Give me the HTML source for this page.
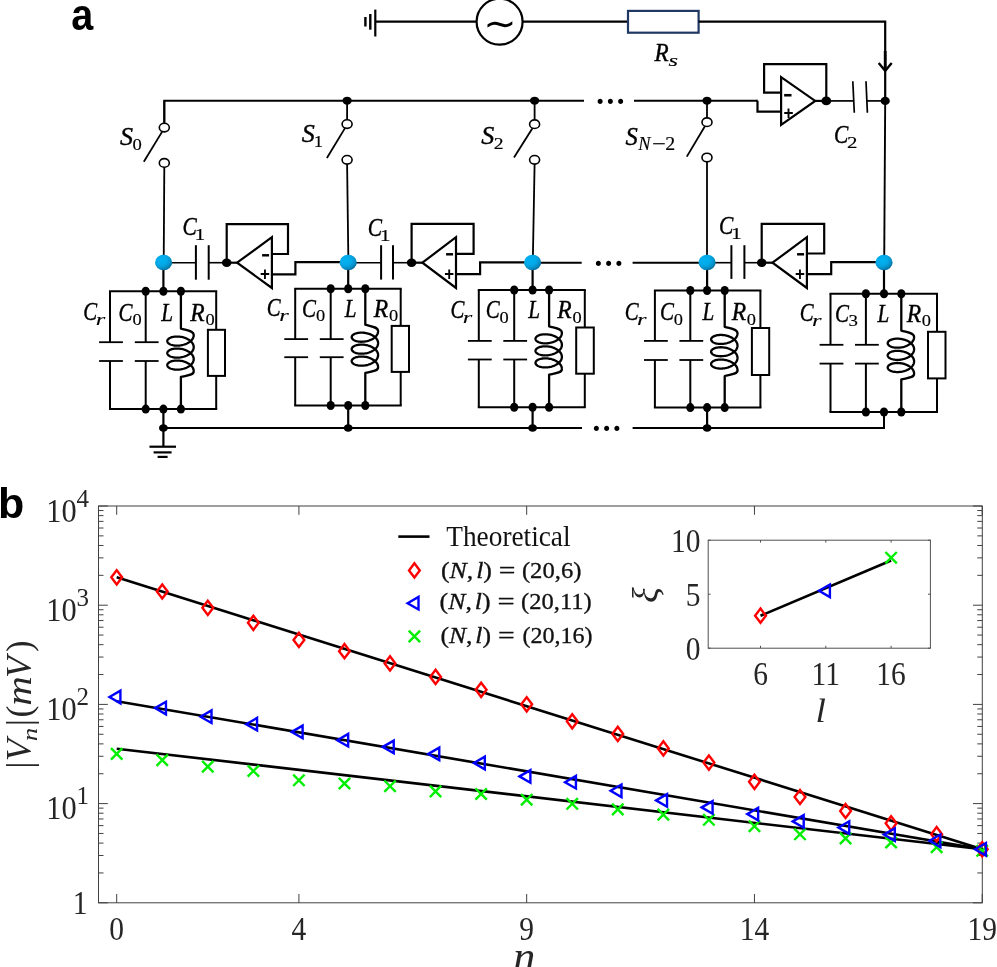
<!DOCTYPE html>
<html lang="en"><head><meta charset="utf-8"><title>Figure</title>
<style>html,body{margin:0;padding:0;background:#fff}svg{display:block}</style></head>
<body>
<svg width="997" height="967" viewBox="0 0 997 967">
<defs><radialGradient id="bg" cx="0.36" cy="0.32" r="0.80"><stop offset="0" stop-color="#02b1f1"/><stop offset="0.42" stop-color="#03aae9"/><stop offset="0.68" stop-color="#0591ca"/><stop offset="0.9" stop-color="#066c9a"/></radialGradient></defs>
<rect width="997" height="967" fill="#fff"/>
<text transform="translate(71.2,29.6) scale(0.92,1.02)" font-family='"Liberation Sans", "DejaVu Sans", sans-serif' font-weight="bold" font-size="43">a</text>
<text x="-1.9" y="518" font-family='"Liberation Sans", "DejaVu Sans", sans-serif' font-weight="bold" font-size="43">b</text>
<line x1="375.30" y1="9.60" x2="375.30" y2="36.50" stroke="#000" stroke-width="2.2" stroke-linecap="butt"/>
<line x1="370.30" y1="14.00" x2="370.30" y2="29.70" stroke="#000" stroke-width="2.4" stroke-linecap="butt"/>
<line x1="365.40" y1="17.00" x2="365.40" y2="26.50" stroke="#000" stroke-width="2.4" stroke-linecap="butt"/>
<line x1="375.30" y1="21.70" x2="476.60" y2="21.70" stroke="#000" stroke-width="2.2" stroke-linecap="butt"/>
<circle cx="499.6" cy="21.7" r="23.0" fill="#fff" stroke="#000" stroke-width="2.2"/>
<text transform="translate(499.9,35.8) scale(1.42,1.3)" font-family='"DejaVu Sans", "Liberation Sans", "DejaVu Sans", sans-serif' font-size="28" text-anchor="middle">∼</text>
<line x1="522.60" y1="21.70" x2="628.00" y2="21.70" stroke="#000" stroke-width="2.2" stroke-linecap="butt"/>
<rect x="628" y="10.9" width="70.6" height="21.8" fill="#fff" stroke="#1f3864" stroke-width="2.2"/>
<path d="M698.60,21.70 L885.20,21.70 L885.20,100.70" fill="none" stroke="#000" stroke-width="2.2" stroke-linejoin="miter"/>
<line x1="885.20" y1="51.00" x2="885.20" y2="70.00" stroke="#000" stroke-width="2.8" stroke-linecap="butt"/>
<path d="M878.70,63.00 L885.20,70.80 L891.70,63.00" fill="none" stroke="#000" stroke-width="2.4" stroke-linejoin="miter"/>
<text transform="translate(654.52,60.50) scale(0.927,1)" font-family='"Liberation Serif", "DejaVu Serif", serif' font-size="25.0" font-style="italic" fill="#000" stroke="#000" stroke-width="0.4">R</text>
<text transform="translate(668.50,66.00) scale(1.393,1)" font-family='"Liberation Serif", "DejaVu Serif", serif' font-size="17.6" font-style="italic" fill="#000" stroke="#000" stroke-width="0.15">s</text>
<path d="M164.30,122.50 L164.30,100.70 L584.00,100.70" fill="none" stroke="#000" stroke-width="2.1" stroke-linejoin="miter"/>
<line x1="634.00" y1="100.70" x2="757.50" y2="100.70" stroke="#000" stroke-width="2.1" stroke-linecap="butt"/>
<text x="596.23" y="104.08" font-family='"Liberation Serif", "DejaVu Serif", serif' font-weight="bold" font-size="31" letter-spacing="2.55">...</text>
<ellipse cx="347.10" cy="100.70" rx="4.6" ry="4.05" fill="#000"/>
<ellipse cx="534.60" cy="100.70" rx="4.6" ry="4.05" fill="#000"/>
<ellipse cx="707.00" cy="100.70" rx="4.6" ry="4.05" fill="#000"/>
<line x1="164.30" y1="100.70" x2="164.30" y2="123.60" stroke="#000" stroke-width="1.8" stroke-linecap="butt"/>
<line x1="163.10" y1="130.10" x2="143.80" y2="161.80" stroke="#000" stroke-width="1.8" stroke-linecap="butt"/>
<line x1="164.30" y1="166.90" x2="163.70" y2="262.70" stroke="#000" stroke-width="1.8" stroke-linecap="butt"/>
<ellipse cx="164.30" cy="127.60" rx="5.0" ry="4.3" fill="#fff" stroke="#000" stroke-width="1.6"/>
<ellipse cx="164.30" cy="162.90" rx="5.0" ry="4.3" fill="#fff" stroke="#000" stroke-width="1.6"/>
<line x1="347.10" y1="100.70" x2="347.10" y2="120.10" stroke="#000" stroke-width="1.8" stroke-linecap="butt"/>
<line x1="345.90" y1="126.60" x2="326.90" y2="158.00" stroke="#000" stroke-width="1.8" stroke-linecap="butt"/>
<line x1="347.10" y1="163.80" x2="348.40" y2="262.70" stroke="#000" stroke-width="1.8" stroke-linecap="butt"/>
<ellipse cx="347.10" cy="124.10" rx="5.0" ry="4.3" fill="#fff" stroke="#000" stroke-width="1.6"/>
<ellipse cx="347.10" cy="159.80" rx="5.0" ry="4.3" fill="#fff" stroke="#000" stroke-width="1.6"/>
<line x1="534.60" y1="100.70" x2="534.60" y2="120.20" stroke="#000" stroke-width="1.8" stroke-linecap="butt"/>
<line x1="533.40" y1="126.70" x2="514.00" y2="157.60" stroke="#000" stroke-width="1.8" stroke-linecap="butt"/>
<line x1="534.60" y1="163.80" x2="532.80" y2="262.70" stroke="#000" stroke-width="1.8" stroke-linecap="butt"/>
<ellipse cx="534.60" cy="124.20" rx="5.0" ry="4.3" fill="#fff" stroke="#000" stroke-width="1.6"/>
<ellipse cx="534.60" cy="159.80" rx="5.0" ry="4.3" fill="#fff" stroke="#000" stroke-width="1.6"/>
<line x1="707.00" y1="100.70" x2="707.00" y2="118.20" stroke="#000" stroke-width="1.8" stroke-linecap="butt"/>
<line x1="705.80" y1="124.70" x2="686.80" y2="156.60" stroke="#000" stroke-width="1.8" stroke-linecap="butt"/>
<line x1="707.00" y1="161.50" x2="707.00" y2="262.70" stroke="#000" stroke-width="1.8" stroke-linecap="butt"/>
<ellipse cx="707.00" cy="122.20" rx="5.0" ry="4.3" fill="#fff" stroke="#000" stroke-width="1.6"/>
<ellipse cx="707.00" cy="157.50" rx="5.0" ry="4.3" fill="#fff" stroke="#000" stroke-width="1.6"/>
<text transform="translate(119.99,144.70) scale(1.042,1)" font-family='"Liberation Serif", "DejaVu Serif", serif' font-size="25.0" font-style="italic" fill="#000" stroke="#000" stroke-width="0.4">S</text>
<text transform="translate(132.49,149.80) scale(1.059,1)" font-family='"Liberation Serif", "DejaVu Serif", serif' font-size="17.6" font-style="normal" fill="#000" stroke="#000" stroke-width="0.15">0</text>
<text transform="translate(301.69,141.60) scale(1.042,1)" font-family='"Liberation Serif", "DejaVu Serif", serif' font-size="25.0" font-style="italic" fill="#000" stroke="#000" stroke-width="0.4">S</text>
<text transform="translate(313.75,146.70) scale(1.065,1)" font-family='"Liberation Serif", "DejaVu Serif", serif' font-size="17.6" font-style="normal" fill="#000" stroke="#000" stroke-width="0.15">1</text>
<text transform="translate(481.29,143.80) scale(1.042,1)" font-family='"Liberation Serif", "DejaVu Serif", serif' font-size="25.0" font-style="italic" fill="#000" stroke="#000" stroke-width="0.4">S</text>
<text transform="translate(493.63,148.90) scale(1.120,1)" font-family='"Liberation Serif", "DejaVu Serif", serif' font-size="17.6" font-style="normal" fill="#000" stroke="#000" stroke-width="0.15">2</text>
<text transform="translate(625.51,144.50) scale(0.983,1)" font-family='"Liberation Serif", "DejaVu Serif", serif' font-size="25.0" font-style="italic" fill="#000" stroke="#000" stroke-width="0.4">S</text>
<text transform="translate(638.23,149.60) scale(0.990,1)" font-family='"Liberation Serif", "DejaVu Serif", serif' font-size="18.5" font-style="italic" fill="#000" stroke="#000" stroke-width="0.15">N</text>
<text transform="translate(652.08,149.60) scale(1.324,1)" font-family='"Liberation Serif", "DejaVu Serif", serif' font-size="18.5" font-style="normal" fill="#000" stroke="#000" stroke-width="0.15">−</text>
<text transform="translate(665.22,149.60) scale(1.079,1)" font-family='"Liberation Serif", "DejaVu Serif", serif' font-size="18.5" font-style="normal" fill="#000" stroke="#000" stroke-width="0.15">2</text>
<path d="M757.50,100.70 L757.50,100.70 L757.50,111.70 L781.10,111.70" fill="none" stroke="#000" stroke-width="2.2" stroke-linejoin="miter"/>
<line x1="756.50" y1="100.70" x2="757.50" y2="100.70" stroke="#000" stroke-width="2" stroke-linecap="butt"/>
<path d="M781.10,77.20 L815.20,100.90 L781.10,124.80 Z" fill="none" stroke="#000" stroke-width="2.2" stroke-linejoin="miter"/>
<path d="M826.30,100.90 L826.30,64.20 L764.10,64.20 L764.10,92.70 L781.10,92.70" fill="none" stroke="#000" stroke-width="2.2" stroke-linejoin="miter"/>
<line x1="815.20" y1="100.90" x2="826.30" y2="100.90" stroke="#000" stroke-width="2.2" stroke-linecap="butt"/>
<ellipse cx="826.30" cy="100.90" rx="4.9" ry="4.31" fill="#000"/>
<text transform="translate(783.58,103.27) scale(0.821,1.315)" font-family='"Liberation Sans", "DejaVu Sans", sans-serif' font-weight="bold" font-size="18.0">−</text>
<text transform="translate(783.38,119.16) scale(0.954,1.063)" font-family='"Liberation Sans", "DejaVu Sans", sans-serif' font-weight="bold" font-size="18.0">+</text>
<line x1="826.30" y1="100.90" x2="853.50" y2="100.90" stroke="#000" stroke-width="1.7" stroke-linecap="butt"/>
<line x1="867.00" y1="100.90" x2="885.20" y2="100.90" stroke="#000" stroke-width="1.7" stroke-linecap="butt"/>
<line x1="852.80" y1="81.20" x2="854.30" y2="112.70" stroke="#000" stroke-width="1.7" stroke-linecap="butt"/>
<line x1="866.00" y1="81.20" x2="867.40" y2="112.70" stroke="#000" stroke-width="1.7" stroke-linecap="butt"/>
<ellipse cx="885.20" cy="100.90" rx="4.6" ry="4.05" fill="#000"/>
<text transform="translate(834.01,143.30) scale(0.857,1)" font-family='"Liberation Serif", "DejaVu Serif", serif' font-size="25.0" font-style="italic" fill="#000" stroke="#000" stroke-width="0.4">C</text>
<text transform="translate(846.98,148.00) scale(1.191,1)" font-family='"Liberation Serif", "DejaVu Serif", serif' font-size="17.6" font-style="normal" fill="#000" stroke="#000" stroke-width="0.15">2</text>
<line x1="885.20" y1="100.90" x2="884.20" y2="262.70" stroke="#000" stroke-width="1.9" stroke-linecap="butt"/>
<line x1="109.00" y1="291.30" x2="217.20" y2="291.30" stroke="#000" stroke-width="2" stroke-linecap="butt"/>
<line x1="109.00" y1="409.10" x2="217.20" y2="409.10" stroke="#000" stroke-width="2" stroke-linecap="butt"/>
<line x1="110.00" y1="291.30" x2="110.00" y2="342.20" stroke="#000" stroke-width="2" stroke-linecap="butt"/>
<line x1="110.00" y1="361.00" x2="110.00" y2="409.10" stroke="#000" stroke-width="2" stroke-linecap="butt"/>
<line x1="99.10" y1="342.20" x2="122.90" y2="342.20" stroke="#000" stroke-width="1.8" stroke-linecap="butt"/>
<line x1="99.10" y1="361.00" x2="122.90" y2="361.00" stroke="#000" stroke-width="1.8" stroke-linecap="butt"/>
<line x1="145.70" y1="291.30" x2="145.70" y2="342.20" stroke="#000" stroke-width="2" stroke-linecap="butt"/>
<line x1="145.70" y1="361.00" x2="145.70" y2="409.10" stroke="#000" stroke-width="2" stroke-linecap="butt"/>
<line x1="134.80" y1="342.20" x2="158.60" y2="342.20" stroke="#000" stroke-width="1.8" stroke-linecap="butt"/>
<line x1="134.80" y1="361.00" x2="158.60" y2="361.00" stroke="#000" stroke-width="1.8" stroke-linecap="butt"/>
<line x1="216.20" y1="291.30" x2="216.20" y2="329.80" stroke="#000" stroke-width="2" stroke-linecap="butt"/>
<line x1="216.20" y1="375.90" x2="216.20" y2="409.10" stroke="#000" stroke-width="2" stroke-linecap="butt"/>
<rect x="207.90" y="329.80" width="17.10" height="46.10" fill="#fff" stroke="#000" stroke-width="2"/>
<path d="M180.90,291.30 L180.90,328.60 C186.90,330.40 193.70,330.60 193.70,335.10 L193.66,335.82 193.54,336.54 193.34,337.25 193.05,337.96 192.70,338.64 192.26,339.31 191.75,339.96 191.18,340.59 190.54,341.19 189.83,341.76 189.07,342.30 188.26,342.81 187.40,343.27 186.49,343.70 185.55,344.09 184.58,344.44 183.58,344.75 182.56,345.01 181.54,345.23 180.50,345.40 179.46,345.53 178.44,345.61 177.42,345.65 176.42,345.64 175.45,345.59 174.51,345.50 173.60,345.37 172.74,345.21 171.93,345.00 171.17,344.76 170.46,344.49 169.82,344.19 169.25,343.86 168.74,343.51 168.30,343.14 167.95,342.76 167.66,342.35 167.46,341.94 167.34,341.52 167.30,341.10 167.34,340.68 167.46,340.26 167.66,339.85 167.95,339.44 168.30,339.06 168.74,338.69 169.25,338.34 169.82,338.01 170.46,337.71 171.17,337.44 171.93,337.20 172.74,336.99 173.60,336.83 174.51,336.70 175.45,336.61 176.42,336.56 177.42,336.55 178.44,336.59 179.46,336.67 180.50,336.80 181.54,336.97 182.56,337.19 183.58,337.45 184.58,337.76 185.55,338.11 186.49,338.50 187.40,338.93 188.26,339.39 189.07,339.90 189.83,340.44 190.54,341.01 191.18,341.61 191.75,342.24 192.26,342.89 192.70,343.56 193.05,344.24 193.34,344.95 193.54,345.66 193.66,346.38 193.70,347.10 193.66,347.82 193.54,348.54 193.34,349.25 193.05,349.96 192.70,350.64 192.26,351.31 191.75,351.96 191.18,352.59 190.54,353.19 189.83,353.76 189.07,354.30 188.26,354.81 187.40,355.27 186.49,355.70 185.55,356.09 184.58,356.44 183.58,356.75 182.56,357.01 181.54,357.23 180.50,357.40 179.46,357.53 178.44,357.61 177.42,357.65 176.42,357.64 175.45,357.59 174.51,357.50 173.60,357.37 172.74,357.21 171.93,357.00 171.17,356.76 170.46,356.49 169.82,356.19 169.25,355.86 168.74,355.51 168.30,355.14 167.95,354.76 167.66,354.35 167.46,353.94 167.34,353.52 167.30,353.10 167.34,352.68 167.46,352.26 167.66,351.85 167.95,351.44 168.30,351.06 168.74,350.69 169.25,350.34 169.82,350.01 170.46,349.71 171.17,349.44 171.93,349.20 172.74,348.99 173.60,348.83 174.51,348.70 175.45,348.61 176.42,348.56 177.42,348.55 178.44,348.59 179.46,348.67 180.50,348.80 181.54,348.97 182.56,349.19 183.58,349.45 184.58,349.76 185.55,350.11 186.49,350.50 187.40,350.93 188.26,351.39 189.07,351.90 189.83,352.44 190.54,353.01 191.18,353.61 191.75,354.24 192.26,354.89 192.70,355.56 193.05,356.24 193.34,356.95 193.54,357.66 193.66,358.38 193.70,359.10 193.66,359.82 193.54,360.54 193.34,361.25 193.05,361.96 192.70,362.64 192.26,363.31 191.75,363.96 191.18,364.59 190.54,365.19 189.83,365.76 189.07,366.30 188.26,366.81 187.40,367.27 186.49,367.70 185.55,368.09 184.58,368.44 183.58,368.75 182.56,369.01 181.54,369.23 180.50,369.40 179.46,369.53 178.44,369.61 177.42,369.65 176.42,369.64 175.45,369.59 174.51,369.50 173.60,369.37 172.74,369.21 171.93,369.00 171.17,368.76 170.46,368.49 169.82,368.19 169.25,367.86 168.74,367.51 168.30,367.14 167.95,366.76 167.66,366.35 167.46,365.94 167.34,365.52 167.30,365.10 167.34,364.68 167.46,364.26 167.66,363.85 167.95,363.44 168.30,363.06 168.74,362.69 169.25,362.34 169.82,362.01 170.46,361.71 171.17,361.44 171.93,361.20 172.74,360.99 173.60,360.83 174.51,360.70 175.45,360.61 176.42,360.56 177.42,360.55 178.44,360.59 179.46,360.67 180.50,360.80 181.54,360.97 182.56,361.19 183.58,361.45 184.58,361.76 185.55,362.11 186.49,362.50 187.40,362.93 188.26,363.39 189.07,363.90 189.83,364.44 190.54,365.01 191.18,365.61 191.75,366.24 192.26,366.89 192.70,367.56 193.05,368.24 193.34,368.95 193.54,369.66 193.66,370.38 193.70,371.10 C194.20,375.10 186.90,375.40 180.90,376.90 L180.90,409.10" fill="none" stroke="#000" stroke-width="2.3" stroke-linejoin="round"/>
<ellipse cx="145.70" cy="291.30" rx="4.1" ry="4.50" fill="#000"/>
<ellipse cx="145.70" cy="409.10" rx="4.1" ry="4.50" fill="#000"/>
<ellipse cx="163.40" cy="291.30" rx="4.1" ry="4.50" fill="#000"/>
<ellipse cx="163.40" cy="409.10" rx="4.1" ry="4.50" fill="#000"/>
<ellipse cx="180.90" cy="291.30" rx="4.1" ry="4.50" fill="#000"/>
<ellipse cx="180.90" cy="409.10" rx="4.1" ry="4.50" fill="#000"/>
<text transform="translate(83.34,320.30) scale(0.831,1)" font-family='"Liberation Serif", "DejaVu Serif", serif' font-size="25.0" font-style="italic" fill="#000" stroke="#000" stroke-width="0.4">C</text>
<text transform="translate(95.71,324.80) scale(1.390,1)" font-family='"Liberation Serif", "DejaVu Serif", serif' font-size="17.6" font-style="italic" fill="#000" stroke="#000" stroke-width="0.1">r</text>
<text transform="translate(118.53,320.70) scale(0.838,1)" font-family='"Liberation Serif", "DejaVu Serif", serif' font-size="25.0" font-style="italic" fill="#000" stroke="#000" stroke-width="0.4">C</text>
<text transform="translate(132.40,324.80) scale(1.046,1)" font-family='"Liberation Serif", "DejaVu Serif", serif' font-size="17.6" font-style="normal" fill="#000" stroke="#000" stroke-width="0.15">0</text>
<text transform="translate(161.15,320.70) scale(0.845,1)" font-family='"Liberation Serif", "DejaVu Serif", serif' font-size="25.0" font-style="italic" fill="#000" stroke="#000" stroke-width="0.4">L</text>
<text transform="translate(190.23,320.70) scale(0.941,1)" font-family='"Liberation Serif", "DejaVu Serif", serif' font-size="25.0" font-style="italic" fill="#000" stroke="#000" stroke-width="0.4">R</text>
<text transform="translate(205.40,324.80) scale(1.046,1)" font-family='"Liberation Serif", "DejaVu Serif", serif' font-size="17.6" font-style="normal" fill="#000" stroke="#000" stroke-width="0.15">0</text>
<line x1="294.20" y1="288.70" x2="401.70" y2="288.70" stroke="#000" stroke-width="2" stroke-linecap="butt"/>
<line x1="294.20" y1="405.50" x2="401.70" y2="405.50" stroke="#000" stroke-width="2" stroke-linecap="butt"/>
<line x1="295.20" y1="288.70" x2="295.20" y2="339.10" stroke="#000" stroke-width="2" stroke-linecap="butt"/>
<line x1="295.20" y1="357.20" x2="295.20" y2="405.50" stroke="#000" stroke-width="2" stroke-linecap="butt"/>
<line x1="284.30" y1="339.10" x2="308.10" y2="339.10" stroke="#000" stroke-width="1.8" stroke-linecap="butt"/>
<line x1="284.30" y1="357.20" x2="308.10" y2="357.20" stroke="#000" stroke-width="1.8" stroke-linecap="butt"/>
<line x1="330.70" y1="288.70" x2="330.70" y2="339.10" stroke="#000" stroke-width="2" stroke-linecap="butt"/>
<line x1="330.70" y1="357.20" x2="330.70" y2="405.50" stroke="#000" stroke-width="2" stroke-linecap="butt"/>
<line x1="319.80" y1="339.10" x2="343.60" y2="339.10" stroke="#000" stroke-width="1.8" stroke-linecap="butt"/>
<line x1="319.80" y1="357.20" x2="343.60" y2="357.20" stroke="#000" stroke-width="1.8" stroke-linecap="butt"/>
<line x1="400.70" y1="288.70" x2="400.70" y2="325.90" stroke="#000" stroke-width="2" stroke-linecap="butt"/>
<line x1="400.70" y1="371.90" x2="400.70" y2="405.50" stroke="#000" stroke-width="2" stroke-linecap="butt"/>
<rect x="391.70" y="325.90" width="17.30" height="46.00" fill="#fff" stroke="#000" stroke-width="2"/>
<path d="M365.30,288.70 L365.30,324.70 C371.30,326.50 378.10,326.70 378.10,331.20 L378.06,331.92 377.94,332.64 377.74,333.35 377.45,334.05 377.10,334.74 376.66,335.41 376.15,336.06 375.58,336.69 374.94,337.29 374.23,337.86 373.47,338.40 372.66,338.90 371.80,339.37 370.89,339.80 369.95,340.19 368.98,340.54 367.98,340.84 366.96,341.10 365.94,341.32 364.90,341.49 363.86,341.62 362.84,341.70 361.82,341.74 360.82,341.73 359.85,341.68 358.91,341.59 358.00,341.46 357.14,341.29 356.33,341.09 355.57,340.85 354.86,340.58 354.22,340.28 353.65,339.95 353.14,339.60 352.70,339.23 352.35,338.84 352.06,338.44 351.86,338.03 351.74,337.61 351.70,337.18 351.74,336.76 351.86,336.34 352.06,335.93 352.35,335.53 352.70,335.14 353.14,334.77 353.65,334.42 354.22,334.09 354.86,333.79 355.57,333.52 356.33,333.28 357.14,333.07 358.00,332.90 358.91,332.77 359.85,332.68 360.82,332.63 361.82,332.63 362.84,332.67 363.86,332.75 364.90,332.87 365.94,333.05 366.96,333.26 367.98,333.53 368.98,333.83 369.95,334.18 370.89,334.57 371.80,335.00 372.66,335.47 373.47,335.97 374.23,336.51 374.94,337.08 375.58,337.68 376.15,338.31 376.66,338.96 377.10,339.63 377.45,340.31 377.74,341.01 377.94,341.73 378.06,342.44 378.10,343.17 378.06,343.89 377.94,344.61 377.74,345.32 377.45,346.02 377.10,346.71 376.66,347.38 376.15,348.03 375.58,348.65 374.94,349.25 374.23,349.82 373.47,350.36 372.66,350.87 371.80,351.34 370.89,351.77 369.95,352.15 368.98,352.50 367.98,352.81 366.96,353.07 365.94,353.29 364.90,353.46 363.86,353.59 362.84,353.67 361.82,353.71 360.82,353.70 359.85,353.65 358.91,353.56 358.00,353.43 357.14,353.26 356.33,353.06 355.57,352.82 354.86,352.54 354.22,352.24 353.65,351.92 353.14,351.57 352.70,351.20 352.35,350.81 352.06,350.41 351.86,349.99 351.74,349.57 351.70,349.15 351.74,348.73 351.86,348.31 352.06,347.89 352.35,347.49 352.70,347.10 353.14,346.73 353.65,346.38 354.22,346.06 354.86,345.76 355.57,345.48 356.33,345.24 357.14,345.04 358.00,344.87 358.91,344.74 359.85,344.65 360.82,344.60 361.82,344.59 362.84,344.63 363.86,344.71 364.90,344.84 365.94,345.01 366.96,345.23 367.98,345.49 368.98,345.80 369.95,346.15 370.89,346.53 371.80,346.96 372.66,347.43 373.47,347.94 374.23,348.48 374.94,349.05 375.58,349.65 376.15,350.27 376.66,350.92 377.10,351.59 377.45,352.28 377.74,352.98 377.94,353.69 378.06,354.41 378.10,355.13 378.06,355.86 377.94,356.57 377.74,357.29 377.45,357.99 377.10,358.67 376.66,359.34 376.15,359.99 375.58,360.62 374.94,361.22 374.23,361.79 373.47,362.33 372.66,362.83 371.80,363.30 370.89,363.73 369.95,364.12 368.98,364.47 367.98,364.77 366.96,365.04 365.94,365.25 364.90,365.43 363.86,365.55 362.84,365.63 361.82,365.67 360.82,365.67 359.85,365.62 358.91,365.53 358.00,365.40 357.14,365.23 356.33,365.02 355.57,364.78 354.86,364.51 354.22,364.21 353.65,363.88 353.14,363.53 352.70,363.16 352.35,362.77 352.06,362.37 351.86,361.96 351.74,361.54 351.70,361.12 351.74,360.69 351.86,360.27 352.06,359.86 352.35,359.46 352.70,359.07 353.14,358.70 353.65,358.35 354.22,358.02 354.86,357.72 355.57,357.45 356.33,357.21 357.14,357.01 358.00,356.84 358.91,356.71 359.85,356.62 360.82,356.57 361.82,356.56 362.84,356.60 363.86,356.68 364.90,356.81 365.94,356.98 366.96,357.20 367.98,357.46 368.98,357.76 369.95,358.11 370.89,358.50 371.80,358.93 372.66,359.40 373.47,359.90 374.23,360.44 374.94,361.01 375.58,361.61 376.15,362.24 376.66,362.89 377.10,363.56 377.45,364.25 377.74,364.95 377.94,365.66 378.06,366.38 378.10,367.10 C378.60,371.10 371.30,371.40 365.30,372.90 L365.30,405.50" fill="none" stroke="#000" stroke-width="2.3" stroke-linejoin="round"/>
<ellipse cx="330.70" cy="288.70" rx="4.1" ry="4.50" fill="#000"/>
<ellipse cx="330.70" cy="405.50" rx="4.1" ry="4.50" fill="#000"/>
<ellipse cx="348.20" cy="288.70" rx="4.1" ry="4.50" fill="#000"/>
<ellipse cx="348.20" cy="405.50" rx="4.1" ry="4.50" fill="#000"/>
<ellipse cx="365.30" cy="288.70" rx="4.1" ry="4.50" fill="#000"/>
<ellipse cx="365.30" cy="405.50" rx="4.1" ry="4.50" fill="#000"/>
<text transform="translate(266.84,316.40) scale(0.831,1)" font-family='"Liberation Serif", "DejaVu Serif", serif' font-size="25.0" font-style="italic" fill="#000" stroke="#000" stroke-width="0.4">C</text>
<text transform="translate(279.21,320.90) scale(1.390,1)" font-family='"Liberation Serif", "DejaVu Serif", serif' font-size="17.6" font-style="italic" fill="#000" stroke="#000" stroke-width="0.1">r</text>
<text transform="translate(302.03,316.80) scale(0.838,1)" font-family='"Liberation Serif", "DejaVu Serif", serif' font-size="25.0" font-style="italic" fill="#000" stroke="#000" stroke-width="0.4">C</text>
<text transform="translate(315.90,320.90) scale(1.046,1)" font-family='"Liberation Serif", "DejaVu Serif", serif' font-size="17.6" font-style="normal" fill="#000" stroke="#000" stroke-width="0.15">0</text>
<text transform="translate(344.65,316.80) scale(0.845,1)" font-family='"Liberation Serif", "DejaVu Serif", serif' font-size="25.0" font-style="italic" fill="#000" stroke="#000" stroke-width="0.4">L</text>
<text transform="translate(373.73,316.80) scale(0.941,1)" font-family='"Liberation Serif", "DejaVu Serif", serif' font-size="25.0" font-style="italic" fill="#000" stroke="#000" stroke-width="0.4">R</text>
<text transform="translate(388.90,320.90) scale(1.046,1)" font-family='"Liberation Serif", "DejaVu Serif", serif' font-size="17.6" font-style="normal" fill="#000" stroke="#000" stroke-width="0.15">0</text>
<line x1="477.80" y1="290.00" x2="585.80" y2="290.00" stroke="#000" stroke-width="2" stroke-linecap="butt"/>
<line x1="477.80" y1="407.30" x2="585.80" y2="407.30" stroke="#000" stroke-width="2" stroke-linecap="butt"/>
<line x1="478.80" y1="290.00" x2="478.80" y2="340.90" stroke="#000" stroke-width="2" stroke-linecap="butt"/>
<line x1="478.80" y1="359.50" x2="478.80" y2="407.30" stroke="#000" stroke-width="2" stroke-linecap="butt"/>
<line x1="467.90" y1="340.90" x2="491.70" y2="340.90" stroke="#000" stroke-width="1.8" stroke-linecap="butt"/>
<line x1="467.90" y1="359.50" x2="491.70" y2="359.50" stroke="#000" stroke-width="1.8" stroke-linecap="butt"/>
<line x1="514.20" y1="290.00" x2="514.20" y2="340.90" stroke="#000" stroke-width="2" stroke-linecap="butt"/>
<line x1="514.20" y1="359.50" x2="514.20" y2="407.30" stroke="#000" stroke-width="2" stroke-linecap="butt"/>
<line x1="503.30" y1="340.90" x2="527.10" y2="340.90" stroke="#000" stroke-width="1.8" stroke-linecap="butt"/>
<line x1="503.30" y1="359.50" x2="527.10" y2="359.50" stroke="#000" stroke-width="1.8" stroke-linecap="butt"/>
<line x1="584.80" y1="290.00" x2="584.80" y2="327.50" stroke="#000" stroke-width="2" stroke-linecap="butt"/>
<line x1="584.80" y1="373.70" x2="584.80" y2="407.30" stroke="#000" stroke-width="2" stroke-linecap="butt"/>
<rect x="576.20" y="327.50" width="17.60" height="46.20" fill="#fff" stroke="#000" stroke-width="2"/>
<path d="M549.10,290.00 L549.10,326.30 C555.10,328.10 561.90,328.30 561.90,332.80 L561.86,333.52 561.74,334.24 561.54,334.96 561.25,335.66 560.90,336.35 560.46,337.02 559.95,337.67 559.38,338.29 558.74,338.89 558.03,339.47 557.27,340.01 556.46,340.51 555.60,340.98 554.69,341.41 553.75,341.80 552.78,342.15 551.78,342.46 550.76,342.72 549.74,342.94 548.70,343.11 547.66,343.24 546.64,343.32 545.62,343.36 544.62,343.35 543.65,343.30 542.71,343.22 541.80,343.09 540.94,342.92 540.13,342.71 539.37,342.47 538.66,342.20 538.02,341.90 537.45,341.58 536.94,341.23 536.50,340.86 536.15,340.47 535.86,340.07 535.66,339.66 535.54,339.24 535.50,338.82 535.54,338.39 535.66,337.98 535.86,337.56 536.15,337.16 536.50,336.78 536.94,336.41 537.45,336.06 538.02,335.73 538.66,335.43 539.37,335.16 540.13,334.92 540.94,334.72 541.80,334.55 542.71,334.42 543.65,334.33 544.62,334.28 545.62,334.28 546.64,334.31 547.66,334.40 548.70,334.52 549.74,334.70 550.76,334.92 551.78,335.18 552.78,335.48 553.75,335.83 554.69,336.22 555.60,336.65 556.46,337.12 557.27,337.63 558.03,338.17 558.74,338.74 559.38,339.34 559.95,339.97 560.46,340.62 560.90,341.29 561.25,341.98 561.54,342.68 561.74,343.39 561.86,344.11 561.90,344.83 561.86,345.56 561.74,346.28 561.54,346.99 561.25,347.69 560.90,348.38 560.46,349.05 559.95,349.70 559.38,350.33 558.74,350.93 558.03,351.50 557.27,352.04 556.46,352.54 555.60,353.01 554.69,353.44 553.75,353.83 552.78,354.18 551.78,354.49 550.76,354.75 549.74,354.97 548.70,355.14 547.66,355.27 546.64,355.35 545.62,355.39 544.62,355.39 543.65,355.34 542.71,355.25 541.80,355.12 540.94,354.95 540.13,354.75 539.37,354.51 538.66,354.24 538.02,353.94 537.45,353.61 536.94,353.26 536.50,352.89 536.15,352.50 535.86,352.10 535.66,351.69 535.54,351.27 535.50,350.85 535.54,350.43 535.66,350.01 535.86,349.60 536.15,349.20 536.50,348.81 536.94,348.44 537.45,348.09 538.02,347.76 538.66,347.46 539.37,347.19 540.13,346.95 540.94,346.75 541.80,346.58 542.71,346.45 543.65,346.36 544.62,346.31 545.62,346.31 546.64,346.35 547.66,346.43 548.70,346.56 549.74,346.73 550.76,346.95 551.78,347.21 552.78,347.52 553.75,347.87 554.69,348.26 555.60,348.69 556.46,349.16 557.27,349.66 558.03,350.20 558.74,350.77 559.38,351.37 559.95,352.00 560.46,352.65 560.90,353.32 561.25,354.01 561.54,354.71 561.74,355.42 561.86,356.14 561.90,356.87 561.86,357.59 561.74,358.31 561.54,359.02 561.25,359.72 560.90,360.41 560.46,361.08 559.95,361.73 559.38,362.36 558.74,362.96 558.03,363.53 557.27,364.07 556.46,364.58 555.60,365.05 554.69,365.48 553.75,365.87 552.78,366.22 551.78,366.52 550.76,366.78 549.74,367.00 548.70,367.18 547.66,367.30 546.64,367.39 545.62,367.42 544.62,367.42 543.65,367.37 542.71,367.28 541.80,367.15 540.94,366.98 540.13,366.78 539.37,366.54 538.66,366.27 538.02,365.97 537.45,365.64 536.94,365.29 536.50,364.92 536.15,364.54 535.86,364.14 535.66,363.72 535.54,363.31 535.50,362.88 535.54,362.46 535.66,362.04 535.86,361.63 536.15,361.23 536.50,360.84 536.94,360.47 537.45,360.12 538.02,359.80 538.66,359.50 539.37,359.23 540.13,358.99 540.94,358.78 541.80,358.61 542.71,358.48 543.65,358.40 544.62,358.35 545.62,358.34 546.64,358.38 547.66,358.46 548.70,358.59 549.74,358.76 550.76,358.98 551.78,359.24 552.78,359.55 553.75,359.90 554.69,360.29 555.60,360.72 556.46,361.19 557.27,361.69 558.03,362.23 558.74,362.81 559.38,363.41 559.95,364.03 560.46,364.68 560.90,365.35 561.25,366.04 561.54,366.74 561.74,367.46 561.86,368.18 561.90,368.90 C562.40,372.90 555.10,373.20 549.10,374.70 L549.10,407.30" fill="none" stroke="#000" stroke-width="2.3" stroke-linejoin="round"/>
<ellipse cx="514.20" cy="290.00" rx="4.1" ry="4.50" fill="#000"/>
<ellipse cx="514.20" cy="407.30" rx="4.1" ry="4.50" fill="#000"/>
<ellipse cx="532.60" cy="290.00" rx="4.1" ry="4.50" fill="#000"/>
<ellipse cx="532.60" cy="407.30" rx="4.1" ry="4.50" fill="#000"/>
<ellipse cx="549.10" cy="290.00" rx="4.1" ry="4.50" fill="#000"/>
<ellipse cx="549.10" cy="407.30" rx="4.1" ry="4.50" fill="#000"/>
<text transform="translate(450.44,318.00) scale(0.831,1)" font-family='"Liberation Serif", "DejaVu Serif", serif' font-size="25.0" font-style="italic" fill="#000" stroke="#000" stroke-width="0.4">C</text>
<text transform="translate(462.81,322.50) scale(1.390,1)" font-family='"Liberation Serif", "DejaVu Serif", serif' font-size="17.6" font-style="italic" fill="#000" stroke="#000" stroke-width="0.1">r</text>
<text transform="translate(485.63,318.40) scale(0.838,1)" font-family='"Liberation Serif", "DejaVu Serif", serif' font-size="25.0" font-style="italic" fill="#000" stroke="#000" stroke-width="0.4">C</text>
<text transform="translate(499.50,322.50) scale(1.046,1)" font-family='"Liberation Serif", "DejaVu Serif", serif' font-size="17.6" font-style="normal" fill="#000" stroke="#000" stroke-width="0.15">0</text>
<text transform="translate(528.25,318.40) scale(0.845,1)" font-family='"Liberation Serif", "DejaVu Serif", serif' font-size="25.0" font-style="italic" fill="#000" stroke="#000" stroke-width="0.4">L</text>
<text transform="translate(557.33,318.40) scale(0.941,1)" font-family='"Liberation Serif", "DejaVu Serif", serif' font-size="25.0" font-style="italic" fill="#000" stroke="#000" stroke-width="0.4">R</text>
<text transform="translate(572.50,322.50) scale(1.046,1)" font-family='"Liberation Serif", "DejaVu Serif", serif' font-size="17.6" font-style="normal" fill="#000" stroke="#000" stroke-width="0.15">0</text>
<line x1="653.90" y1="290.50" x2="761.40" y2="290.50" stroke="#000" stroke-width="2" stroke-linecap="butt"/>
<line x1="653.90" y1="407.60" x2="761.40" y2="407.60" stroke="#000" stroke-width="2" stroke-linecap="butt"/>
<line x1="654.90" y1="290.50" x2="654.90" y2="340.90" stroke="#000" stroke-width="2" stroke-linecap="butt"/>
<line x1="654.90" y1="360.00" x2="654.90" y2="407.60" stroke="#000" stroke-width="2" stroke-linecap="butt"/>
<line x1="644.00" y1="340.90" x2="667.80" y2="340.90" stroke="#000" stroke-width="1.8" stroke-linecap="butt"/>
<line x1="644.00" y1="360.00" x2="667.80" y2="360.00" stroke="#000" stroke-width="1.8" stroke-linecap="butt"/>
<line x1="690.30" y1="290.50" x2="690.30" y2="340.90" stroke="#000" stroke-width="2" stroke-linecap="butt"/>
<line x1="690.30" y1="360.00" x2="690.30" y2="407.60" stroke="#000" stroke-width="2" stroke-linecap="butt"/>
<line x1="679.40" y1="340.90" x2="703.20" y2="340.90" stroke="#000" stroke-width="1.8" stroke-linecap="butt"/>
<line x1="679.40" y1="360.00" x2="703.20" y2="360.00" stroke="#000" stroke-width="1.8" stroke-linecap="butt"/>
<line x1="760.40" y1="290.50" x2="760.40" y2="328.00" stroke="#000" stroke-width="2" stroke-linecap="butt"/>
<line x1="760.40" y1="375.00" x2="760.40" y2="407.60" stroke="#000" stroke-width="2" stroke-linecap="butt"/>
<rect x="751.90" y="328.00" width="17.30" height="47.00" fill="#fff" stroke="#000" stroke-width="2"/>
<path d="M724.70,290.50 L724.70,326.80 C730.70,328.60 737.50,328.80 737.50,333.30 L737.46,334.03 737.34,334.75 737.14,335.47 736.85,336.17 736.50,336.86 736.06,337.54 735.55,338.19 734.98,338.82 734.34,339.42 733.63,340.00 732.87,340.54 732.06,341.05 731.20,341.52 730.29,341.96 729.35,342.35 728.38,342.70 727.38,343.01 726.36,343.28 725.34,343.50 724.30,343.68 723.26,343.81 722.24,343.89 721.22,343.93 720.22,343.93 719.25,343.89 718.31,343.80 717.40,343.68 716.54,343.51 715.73,343.31 714.97,343.07 714.26,342.81 713.62,342.51 713.05,342.19 712.54,341.84 712.10,341.47 711.75,341.09 711.46,340.69 711.26,340.28 711.14,339.87 711.10,339.45 711.14,339.03 711.26,338.62 711.46,338.21 711.75,337.81 712.10,337.43 712.54,337.06 713.05,336.71 713.62,336.39 714.26,336.09 714.97,335.83 715.73,335.59 716.54,335.39 717.40,335.22 718.31,335.10 719.25,335.01 720.22,334.97 721.22,334.97 722.24,335.01 723.26,335.09 724.30,335.22 725.34,335.40 726.36,335.62 727.38,335.89 728.38,336.20 729.35,336.55 730.29,336.94 731.20,337.38 732.06,337.85 732.87,338.36 733.63,338.90 734.34,339.48 734.98,340.08 735.55,340.71 736.06,341.36 736.50,342.04 736.85,342.73 737.14,343.43 737.34,344.15 737.46,344.87 737.50,345.60 737.46,346.33 737.34,347.05 737.14,347.77 736.85,348.47 736.50,349.16 736.06,349.84 735.55,350.49 734.98,351.12 734.34,351.72 733.63,352.30 732.87,352.84 732.06,353.35 731.20,353.82 730.29,354.26 729.35,354.65 728.38,355.00 727.38,355.31 726.36,355.58 725.34,355.80 724.30,355.98 723.26,356.11 722.24,356.19 721.22,356.23 720.22,356.23 719.25,356.19 718.31,356.10 717.40,355.98 716.54,355.81 715.73,355.61 714.97,355.37 714.26,355.11 713.62,354.81 713.05,354.49 712.54,354.14 712.10,353.77 711.75,353.39 711.46,352.99 711.26,352.58 711.14,352.17 711.10,351.75 711.14,351.33 711.26,350.92 711.46,350.51 711.75,350.11 712.10,349.73 712.54,349.36 713.05,349.01 713.62,348.69 714.26,348.39 714.97,348.13 715.73,347.89 716.54,347.69 717.40,347.52 718.31,347.40 719.25,347.31 720.22,347.27 721.22,347.27 722.24,347.31 723.26,347.39 724.30,347.52 725.34,347.70 726.36,347.92 727.38,348.19 728.38,348.50 729.35,348.85 730.29,349.24 731.20,349.68 732.06,350.15 732.87,350.66 733.63,351.20 734.34,351.78 734.98,352.38 735.55,353.01 736.06,353.66 736.50,354.34 736.85,355.03 737.14,355.73 737.34,356.45 737.46,357.17 737.50,357.90 737.46,358.63 737.34,359.35 737.14,360.07 736.85,360.77 736.50,361.46 736.06,362.14 735.55,362.79 734.98,363.42 734.34,364.02 733.63,364.60 732.87,365.14 732.06,365.65 731.20,366.12 730.29,366.56 729.35,366.95 728.38,367.30 727.38,367.61 726.36,367.88 725.34,368.10 724.30,368.28 723.26,368.41 722.24,368.49 721.22,368.53 720.22,368.53 719.25,368.49 718.31,368.40 717.40,368.28 716.54,368.11 715.73,367.91 714.97,367.67 714.26,367.41 713.62,367.11 713.05,366.79 712.54,366.44 712.10,366.07 711.75,365.69 711.46,365.29 711.26,364.88 711.14,364.47 711.10,364.05 711.14,363.63 711.26,363.22 711.46,362.81 711.75,362.41 712.10,362.03 712.54,361.66 713.05,361.31 713.62,360.99 714.26,360.69 714.97,360.43 715.73,360.19 716.54,359.99 717.40,359.82 718.31,359.70 719.25,359.61 720.22,359.57 721.22,359.57 722.24,359.61 723.26,359.69 724.30,359.82 725.34,360.00 726.36,360.22 727.38,360.49 728.38,360.80 729.35,361.15 730.29,361.54 731.20,361.98 732.06,362.45 732.87,362.96 733.63,363.50 734.34,364.08 734.98,364.68 735.55,365.31 736.06,365.96 736.50,366.64 736.85,367.33 737.14,368.03 737.34,368.75 737.46,369.47 737.50,370.20 C738.00,374.20 730.70,374.50 724.70,376.00 L724.70,407.60" fill="none" stroke="#000" stroke-width="2.3" stroke-linejoin="round"/>
<ellipse cx="690.30" cy="290.50" rx="4.1" ry="4.50" fill="#000"/>
<ellipse cx="690.30" cy="407.60" rx="4.1" ry="4.50" fill="#000"/>
<ellipse cx="707.10" cy="290.50" rx="4.1" ry="4.50" fill="#000"/>
<ellipse cx="707.10" cy="407.60" rx="4.1" ry="4.50" fill="#000"/>
<ellipse cx="724.70" cy="290.50" rx="4.1" ry="4.50" fill="#000"/>
<ellipse cx="724.70" cy="407.60" rx="4.1" ry="4.50" fill="#000"/>
<text transform="translate(624.74,320.00) scale(0.831,1)" font-family='"Liberation Serif", "DejaVu Serif", serif' font-size="25.0" font-style="italic" fill="#000" stroke="#000" stroke-width="0.4">C</text>
<text transform="translate(637.11,324.50) scale(1.390,1)" font-family='"Liberation Serif", "DejaVu Serif", serif' font-size="17.6" font-style="italic" fill="#000" stroke="#000" stroke-width="0.1">r</text>
<text transform="translate(659.93,320.40) scale(0.838,1)" font-family='"Liberation Serif", "DejaVu Serif", serif' font-size="25.0" font-style="italic" fill="#000" stroke="#000" stroke-width="0.4">C</text>
<text transform="translate(673.80,324.50) scale(1.046,1)" font-family='"Liberation Serif", "DejaVu Serif", serif' font-size="17.6" font-style="normal" fill="#000" stroke="#000" stroke-width="0.15">0</text>
<text transform="translate(702.55,320.40) scale(0.845,1)" font-family='"Liberation Serif", "DejaVu Serif", serif' font-size="25.0" font-style="italic" fill="#000" stroke="#000" stroke-width="0.4">L</text>
<text transform="translate(731.63,320.40) scale(0.941,1)" font-family='"Liberation Serif", "DejaVu Serif", serif' font-size="25.0" font-style="italic" fill="#000" stroke="#000" stroke-width="0.4">R</text>
<text transform="translate(746.80,324.50) scale(1.046,1)" font-family='"Liberation Serif", "DejaVu Serif", serif' font-size="17.6" font-style="normal" fill="#000" stroke="#000" stroke-width="0.15">0</text>
<line x1="829.50" y1="293.80" x2="938.00" y2="293.80" stroke="#000" stroke-width="2" stroke-linecap="butt"/>
<line x1="829.50" y1="412.00" x2="938.00" y2="412.00" stroke="#000" stroke-width="2" stroke-linecap="butt"/>
<line x1="830.50" y1="293.80" x2="830.50" y2="344.80" stroke="#000" stroke-width="2" stroke-linecap="butt"/>
<line x1="830.50" y1="363.60" x2="830.50" y2="412.00" stroke="#000" stroke-width="2" stroke-linecap="butt"/>
<line x1="819.60" y1="344.80" x2="843.40" y2="344.80" stroke="#000" stroke-width="1.8" stroke-linecap="butt"/>
<line x1="819.60" y1="363.60" x2="843.40" y2="363.60" stroke="#000" stroke-width="1.8" stroke-linecap="butt"/>
<line x1="865.90" y1="293.80" x2="865.90" y2="344.80" stroke="#000" stroke-width="2" stroke-linecap="butt"/>
<line x1="865.90" y1="363.60" x2="865.90" y2="412.00" stroke="#000" stroke-width="2" stroke-linecap="butt"/>
<line x1="855.00" y1="344.80" x2="878.80" y2="344.80" stroke="#000" stroke-width="1.8" stroke-linecap="butt"/>
<line x1="855.00" y1="363.60" x2="878.80" y2="363.60" stroke="#000" stroke-width="1.8" stroke-linecap="butt"/>
<line x1="937.00" y1="293.80" x2="937.00" y2="331.80" stroke="#000" stroke-width="2" stroke-linecap="butt"/>
<line x1="937.00" y1="378.40" x2="937.00" y2="412.00" stroke="#000" stroke-width="2" stroke-linecap="butt"/>
<rect x="928.00" y="331.80" width="17.50" height="46.60" fill="#fff" stroke="#000" stroke-width="2"/>
<path d="M901.30,293.80 L901.30,330.60 C907.30,332.40 914.10,332.60 914.10,337.10 L914.06,337.82 913.94,338.55 913.74,339.26 913.45,339.96 913.10,340.65 912.66,341.33 912.15,341.98 911.58,342.61 910.94,343.21 910.23,343.78 909.47,344.32 908.66,344.83 907.80,345.30 906.89,345.73 905.95,346.13 904.98,346.48 903.98,346.78 902.96,347.05 901.94,347.27 900.90,347.44 899.86,347.57 898.84,347.66 897.82,347.70 896.82,347.69 895.85,347.65 894.91,347.56 894.00,347.43 893.14,347.26 892.33,347.06 891.57,346.82 890.86,346.56 890.22,346.26 889.65,345.93 889.14,345.58 888.70,345.22 888.35,344.83 888.06,344.43 887.86,344.02 887.74,343.60 887.70,343.18 887.74,342.76 887.86,342.35 888.06,341.94 888.35,341.54 888.70,341.15 889.14,340.78 889.65,340.43 890.22,340.11 890.86,339.81 891.57,339.54 892.33,339.31 893.14,339.10 894.00,338.94 894.91,338.81 895.85,338.72 896.82,338.67 897.82,338.67 898.84,338.71 899.86,338.80 900.90,338.93 901.94,339.10 902.96,339.32 903.98,339.58 904.98,339.89 905.95,340.24 906.89,340.63 907.80,341.07 908.66,341.54 909.47,342.04 910.23,342.58 910.94,343.16 911.58,343.76 912.15,344.39 912.66,345.04 913.10,345.71 913.45,346.40 913.74,347.11 913.94,347.82 914.06,348.54 914.10,349.27 914.06,349.99 913.94,350.71 913.74,351.43 913.45,352.13 913.10,352.82 912.66,353.49 912.15,354.15 911.58,354.77 910.94,355.38 910.23,355.95 909.47,356.49 908.66,357.00 907.80,357.47 906.89,357.90 905.95,358.29 904.98,358.64 903.98,358.95 902.96,359.21 901.94,359.43 900.90,359.61 899.86,359.74 898.84,359.82 897.82,359.86 896.82,359.86 895.85,359.81 894.91,359.73 894.00,359.60 893.14,359.43 892.33,359.23 891.57,358.99 890.86,358.72 890.22,358.42 889.65,358.10 889.14,357.75 888.70,357.38 888.35,357.00 888.06,356.60 887.86,356.19 887.74,355.77 887.70,355.35 887.74,354.93 887.86,354.51 888.06,354.10 888.35,353.70 888.70,353.32 889.14,352.95 889.65,352.60 890.22,352.28 890.86,351.98 891.57,351.71 892.33,351.47 893.14,351.27 894.00,351.10 894.91,350.97 895.85,350.89 896.82,350.84 897.82,350.84 898.84,350.88 899.86,350.96 900.90,351.09 901.94,351.27 902.96,351.49 903.98,351.75 904.98,352.06 905.95,352.41 906.89,352.80 907.80,353.23 908.66,353.70 909.47,354.21 910.23,354.75 910.94,355.32 911.58,355.93 912.15,356.55 912.66,357.21 913.10,357.88 913.45,358.57 913.74,359.27 913.94,359.99 914.06,360.71 914.10,361.43 914.06,362.16 913.94,362.88 913.74,363.59 913.45,364.30 913.10,364.99 912.66,365.66 912.15,366.31 911.58,366.94 910.94,367.54 910.23,368.12 909.47,368.66 908.66,369.16 907.80,369.63 906.89,370.07 905.95,370.46 904.98,370.81 903.98,371.12 902.96,371.38 901.94,371.60 900.90,371.77 899.86,371.90 898.84,371.99 897.82,372.03 896.82,372.03 895.85,371.98 894.91,371.89 894.00,371.76 893.14,371.60 892.33,371.39 891.57,371.16 890.86,370.89 890.22,370.59 889.65,370.27 889.14,369.92 888.70,369.55 888.35,369.16 888.06,368.76 887.86,368.35 887.74,367.94 887.70,367.52 887.74,367.10 887.86,366.68 888.06,366.27 888.35,365.87 888.70,365.48 889.14,365.12 889.65,364.77 890.22,364.44 890.86,364.14 891.57,363.88 892.33,363.64 893.14,363.44 894.00,363.27 894.91,363.14 895.85,363.05 896.82,363.01 897.82,363.00 898.84,363.04 899.86,363.13 900.90,363.26 901.94,363.43 902.96,363.65 903.98,363.92 904.98,364.22 905.95,364.57 906.89,364.97 907.80,365.40 908.66,365.87 909.47,366.38 910.23,366.92 910.94,367.49 911.58,368.09 912.15,368.72 912.66,369.37 913.10,370.05 913.45,370.74 913.74,371.44 913.94,372.15 914.06,372.88 914.10,373.60 C914.60,377.60 907.30,377.90 901.30,379.40 L901.30,412.00" fill="none" stroke="#000" stroke-width="2.3" stroke-linejoin="round"/>
<ellipse cx="865.90" cy="293.80" rx="4.1" ry="4.50" fill="#000"/>
<ellipse cx="865.90" cy="412.00" rx="4.1" ry="4.50" fill="#000"/>
<ellipse cx="884.00" cy="293.80" rx="4.1" ry="4.50" fill="#000"/>
<ellipse cx="884.00" cy="412.00" rx="4.1" ry="4.50" fill="#000"/>
<ellipse cx="901.30" cy="293.80" rx="4.1" ry="4.50" fill="#000"/>
<ellipse cx="901.30" cy="412.00" rx="4.1" ry="4.50" fill="#000"/>
<text transform="translate(799.74,321.10) scale(0.831,1)" font-family='"Liberation Serif", "DejaVu Serif", serif' font-size="25.0" font-style="italic" fill="#000" stroke="#000" stroke-width="0.4">C</text>
<text transform="translate(812.11,325.60) scale(1.390,1)" font-family='"Liberation Serif", "DejaVu Serif", serif' font-size="17.6" font-style="italic" fill="#000" stroke="#000" stroke-width="0.1">r</text>
<text transform="translate(834.93,321.50) scale(0.838,1)" font-family='"Liberation Serif", "DejaVu Serif", serif' font-size="25.0" font-style="italic" fill="#000" stroke="#000" stroke-width="0.4">C</text>
<text transform="translate(848.60,325.60) scale(1.073,1)" font-family='"Liberation Serif", "DejaVu Serif", serif' font-size="17.6" font-style="normal" fill="#000" stroke="#000" stroke-width="0.15">3</text>
<text transform="translate(877.55,321.50) scale(0.845,1)" font-family='"Liberation Serif", "DejaVu Serif", serif' font-size="25.0" font-style="italic" fill="#000" stroke="#000" stroke-width="0.4">L</text>
<text transform="translate(906.63,321.50) scale(0.941,1)" font-family='"Liberation Serif", "DejaVu Serif", serif' font-size="25.0" font-style="italic" fill="#000" stroke="#000" stroke-width="0.4">R</text>
<text transform="translate(921.80,325.60) scale(1.046,1)" font-family='"Liberation Serif", "DejaVu Serif", serif' font-size="17.6" font-style="normal" fill="#000" stroke="#000" stroke-width="0.15">0</text>
<line x1="163.40" y1="262.70" x2="163.40" y2="291.30" stroke="#000" stroke-width="2.2" stroke-linecap="butt"/>
<line x1="163.40" y1="409.10" x2="163.40" y2="428.00" stroke="#000" stroke-width="2.2" stroke-linecap="butt"/>
<ellipse cx="163.40" cy="428.00" rx="4.4" ry="3.87" fill="#000"/>
<line x1="348.20" y1="262.70" x2="348.20" y2="288.70" stroke="#000" stroke-width="2.2" stroke-linecap="butt"/>
<line x1="348.20" y1="405.50" x2="348.20" y2="428.00" stroke="#000" stroke-width="2.2" stroke-linecap="butt"/>
<ellipse cx="348.20" cy="428.00" rx="4.4" ry="3.87" fill="#000"/>
<line x1="532.60" y1="262.70" x2="532.60" y2="290.00" stroke="#000" stroke-width="2.2" stroke-linecap="butt"/>
<line x1="532.60" y1="407.30" x2="532.60" y2="428.00" stroke="#000" stroke-width="2.2" stroke-linecap="butt"/>
<ellipse cx="532.60" cy="428.00" rx="4.4" ry="3.87" fill="#000"/>
<line x1="707.10" y1="262.70" x2="707.10" y2="290.50" stroke="#000" stroke-width="2.2" stroke-linecap="butt"/>
<line x1="707.10" y1="407.60" x2="707.10" y2="428.00" stroke="#000" stroke-width="2.2" stroke-linecap="butt"/>
<ellipse cx="707.10" cy="428.00" rx="4.4" ry="3.87" fill="#000"/>
<line x1="884.00" y1="262.70" x2="884.00" y2="293.80" stroke="#000" stroke-width="2.2" stroke-linecap="butt"/>
<line x1="163.40" y1="428.00" x2="582.00" y2="428.00" stroke="#000" stroke-width="2" stroke-linecap="butt"/>
<path d="M632.60,428.00 L884.00,428.00 L884.00,412.00" fill="none" stroke="#000" stroke-width="2" stroke-linejoin="miter"/>
<text x="592.42" y="430.58" font-family='"Liberation Serif", "DejaVu Serif", serif' font-weight="bold" font-size="31" letter-spacing="2.55">...</text>
<line x1="163.40" y1="428.00" x2="163.40" y2="446.70" stroke="#000" stroke-width="2.2" stroke-linecap="butt"/>
<line x1="149.50" y1="446.70" x2="176.00" y2="446.70" stroke="#000" stroke-width="2.2" stroke-linecap="butt"/>
<line x1="153.60" y1="452.40" x2="171.60" y2="452.40" stroke="#000" stroke-width="2.2" stroke-linecap="butt"/>
<line x1="157.60" y1="456.90" x2="167.60" y2="456.90" stroke="#000" stroke-width="2.2" stroke-linecap="butt"/>
<line x1="163.60" y1="262.70" x2="195.90" y2="262.70" stroke="#000" stroke-width="1.6" stroke-linecap="butt"/>
<line x1="208.70" y1="262.70" x2="226.70" y2="262.70" stroke="#000" stroke-width="1.6" stroke-linecap="butt"/>
<line x1="195.90" y1="245.20" x2="195.90" y2="279.70" stroke="#000" stroke-width="2" stroke-linecap="butt"/>
<line x1="208.70" y1="245.20" x2="208.70" y2="279.70" stroke="#000" stroke-width="2" stroke-linecap="butt"/>
<path d="M237.10,262.70 L271.90,237.20 L271.90,288.00 Z" fill="none" stroke="#000" stroke-width="2.2" stroke-linejoin="miter"/>
<path d="M226.70,262.70 L226.70,224.10 L288.00,224.10 L288.00,254.00 L271.90,254.00" fill="none" stroke="#000" stroke-width="2.2" stroke-linejoin="miter"/>
<path d="M271.90,274.40 L295.40,274.40 L295.40,262.20 L348.20,262.20" fill="none" stroke="#000" stroke-width="2.2" stroke-linejoin="miter"/>
<line x1="226.70" y1="262.70" x2="237.10" y2="262.70" stroke="#000" stroke-width="2.2" stroke-linecap="butt"/>
<ellipse cx="226.70" cy="262.70" rx="4.8" ry="4.22" fill="#000"/>
<text transform="translate(261.51,262.64) scale(0.776,1.260)" font-family='"Liberation Sans", "DejaVu Sans", sans-serif' font-weight="bold" font-size="18.0">−</text>
<text transform="translate(260.04,279.90) scale(0.943,1.052)" font-family='"Liberation Sans", "DejaVu Sans", sans-serif' font-weight="bold" font-size="18.0">+</text>
<text transform="translate(182.61,234.70) scale(0.857,1)" font-family='"Liberation Serif", "DejaVu Serif", serif' font-size="25.0" font-style="italic" fill="#000" stroke="#000" stroke-width="0.4">C</text>
<text transform="translate(194.40,239.50) scale(1.227,1)" font-family='"Liberation Serif", "DejaVu Serif", serif' font-size="17.6" font-style="normal" fill="#000" stroke="#000" stroke-width="0.15">1</text>
<line x1="348.20" y1="262.70" x2="381.10" y2="262.70" stroke="#000" stroke-width="1.6" stroke-linecap="butt"/>
<line x1="393.00" y1="262.70" x2="411.60" y2="262.70" stroke="#000" stroke-width="1.6" stroke-linecap="butt"/>
<line x1="381.10" y1="245.20" x2="381.10" y2="279.60" stroke="#000" stroke-width="2" stroke-linecap="butt"/>
<line x1="393.00" y1="245.20" x2="393.00" y2="279.60" stroke="#000" stroke-width="2" stroke-linecap="butt"/>
<path d="M422.40,262.70 L456.00,237.20 L456.00,288.00 Z" fill="none" stroke="#000" stroke-width="2.2" stroke-linejoin="miter"/>
<path d="M411.60,262.70 L411.60,223.80 L473.60,223.80 L473.60,253.80 L456.00,253.80" fill="none" stroke="#000" stroke-width="2.2" stroke-linejoin="miter"/>
<path d="M456.00,274.20 L480.10,274.20 L480.10,262.40 L532.60,262.40" fill="none" stroke="#000" stroke-width="2.2" stroke-linejoin="miter"/>
<line x1="411.60" y1="262.70" x2="422.40" y2="262.70" stroke="#000" stroke-width="2.2" stroke-linecap="butt"/>
<ellipse cx="411.60" cy="262.70" rx="4.8" ry="4.22" fill="#000"/>
<text transform="translate(445.61,262.44) scale(0.776,1.260)" font-family='"Liberation Sans", "DejaVu Sans", sans-serif' font-weight="bold" font-size="18.0">−</text>
<text transform="translate(444.14,279.70) scale(0.943,1.052)" font-family='"Liberation Sans", "DejaVu Sans", sans-serif' font-weight="bold" font-size="18.0">+</text>
<text transform="translate(367.81,235.80) scale(0.857,1)" font-family='"Liberation Serif", "DejaVu Serif", serif' font-size="25.0" font-style="italic" fill="#000" stroke="#000" stroke-width="0.4">C</text>
<text transform="translate(379.80,240.50) scale(1.227,1)" font-family='"Liberation Serif", "DejaVu Serif", serif' font-size="17.6" font-style="normal" fill="#000" stroke="#000" stroke-width="0.15">1</text>
<line x1="532.60" y1="262.70" x2="581.70" y2="262.70" stroke="#000" stroke-width="2" stroke-linecap="butt"/>
<text x="594.52" y="265.68" font-family='"Liberation Serif", "DejaVu Serif", serif' font-weight="bold" font-size="31" letter-spacing="2.55">...</text>
<line x1="632.60" y1="262.70" x2="707.10" y2="262.70" stroke="#000" stroke-width="2" stroke-linecap="butt"/>
<line x1="707.10" y1="262.70" x2="731.40" y2="262.70" stroke="#000" stroke-width="1.6" stroke-linecap="butt"/>
<line x1="744.40" y1="262.70" x2="761.70" y2="262.70" stroke="#000" stroke-width="1.6" stroke-linecap="butt"/>
<line x1="731.40" y1="245.20" x2="731.40" y2="278.90" stroke="#000" stroke-width="2" stroke-linecap="butt"/>
<line x1="744.40" y1="245.20" x2="744.40" y2="278.90" stroke="#000" stroke-width="2" stroke-linecap="butt"/>
<path d="M772.50,262.70 L806.90,237.20 L806.90,288.00 Z" fill="none" stroke="#000" stroke-width="2.2" stroke-linejoin="miter"/>
<path d="M761.70,262.70 L761.70,223.80 L824.20,223.80 L824.20,253.50 L806.90,253.50" fill="none" stroke="#000" stroke-width="2.2" stroke-linejoin="miter"/>
<path d="M806.90,274.20 L831.20,274.20 L831.20,262.20 L884.00,262.20" fill="none" stroke="#000" stroke-width="2.2" stroke-linejoin="miter"/>
<line x1="761.70" y1="262.70" x2="772.50" y2="262.70" stroke="#000" stroke-width="2.2" stroke-linecap="butt"/>
<ellipse cx="761.70" cy="262.70" rx="4.8" ry="4.22" fill="#000"/>
<text transform="translate(796.51,262.14) scale(0.776,1.260)" font-family='"Liberation Sans", "DejaVu Sans", sans-serif' font-weight="bold" font-size="18.0">−</text>
<text transform="translate(795.04,279.70) scale(0.943,1.052)" font-family='"Liberation Sans", "DejaVu Sans", sans-serif' font-weight="bold" font-size="18.0">+</text>
<text transform="translate(719.01,234.00) scale(0.857,1)" font-family='"Liberation Serif", "DejaVu Serif", serif' font-size="25.0" font-style="italic" fill="#000" stroke="#000" stroke-width="0.4">C</text>
<text transform="translate(731.00,238.70) scale(1.227,1)" font-family='"Liberation Serif", "DejaVu Serif", serif' font-size="17.6" font-style="normal" fill="#000" stroke="#000" stroke-width="0.15">1</text>
<ellipse cx="163.60" cy="262.50" rx="8.6" ry="7.7" fill="url(#bg)"/>
<ellipse cx="348.20" cy="262.50" rx="8.6" ry="7.7" fill="url(#bg)"/>
<ellipse cx="532.60" cy="262.50" rx="8.6" ry="7.7" fill="url(#bg)"/>
<ellipse cx="707.10" cy="262.50" rx="8.6" ry="7.7" fill="url(#bg)"/>
<ellipse cx="884.00" cy="262.50" rx="8.6" ry="7.7" fill="url(#bg)"/>
<rect x="98.5" y="506.0" width="883.80" height="396.80" fill="none" stroke="#404040" stroke-width="1"/>
<line x1="98.50" y1="902.80" x2="107.80" y2="902.80" stroke="#404040" stroke-width="1" stroke-linecap="butt"/>
<line x1="982.30" y1="902.80" x2="973.00" y2="902.80" stroke="#404040" stroke-width="1" stroke-linecap="butt"/>
<line x1="98.50" y1="872.94" x2="103.50" y2="872.94" stroke="#404040" stroke-width="1" stroke-linecap="butt"/>
<line x1="982.30" y1="872.94" x2="977.30" y2="872.94" stroke="#404040" stroke-width="1" stroke-linecap="butt"/>
<line x1="98.50" y1="855.47" x2="103.50" y2="855.47" stroke="#404040" stroke-width="1" stroke-linecap="butt"/>
<line x1="982.30" y1="855.47" x2="977.30" y2="855.47" stroke="#404040" stroke-width="1" stroke-linecap="butt"/>
<line x1="98.50" y1="843.08" x2="103.50" y2="843.08" stroke="#404040" stroke-width="1" stroke-linecap="butt"/>
<line x1="982.30" y1="843.08" x2="977.30" y2="843.08" stroke="#404040" stroke-width="1" stroke-linecap="butt"/>
<line x1="98.50" y1="833.46" x2="103.50" y2="833.46" stroke="#404040" stroke-width="1" stroke-linecap="butt"/>
<line x1="982.30" y1="833.46" x2="977.30" y2="833.46" stroke="#404040" stroke-width="1" stroke-linecap="butt"/>
<line x1="98.50" y1="825.61" x2="103.50" y2="825.61" stroke="#404040" stroke-width="1" stroke-linecap="butt"/>
<line x1="982.30" y1="825.61" x2="977.30" y2="825.61" stroke="#404040" stroke-width="1" stroke-linecap="butt"/>
<line x1="98.50" y1="818.97" x2="103.50" y2="818.97" stroke="#404040" stroke-width="1" stroke-linecap="butt"/>
<line x1="982.30" y1="818.97" x2="977.30" y2="818.97" stroke="#404040" stroke-width="1" stroke-linecap="butt"/>
<line x1="98.50" y1="813.21" x2="103.50" y2="813.21" stroke="#404040" stroke-width="1" stroke-linecap="butt"/>
<line x1="982.30" y1="813.21" x2="977.30" y2="813.21" stroke="#404040" stroke-width="1" stroke-linecap="butt"/>
<line x1="98.50" y1="808.14" x2="103.50" y2="808.14" stroke="#404040" stroke-width="1" stroke-linecap="butt"/>
<line x1="982.30" y1="808.14" x2="977.30" y2="808.14" stroke="#404040" stroke-width="1" stroke-linecap="butt"/>
<line x1="98.50" y1="803.60" x2="107.80" y2="803.60" stroke="#404040" stroke-width="1" stroke-linecap="butt"/>
<line x1="982.30" y1="803.60" x2="973.00" y2="803.60" stroke="#404040" stroke-width="1" stroke-linecap="butt"/>
<line x1="98.50" y1="773.74" x2="103.50" y2="773.74" stroke="#404040" stroke-width="1" stroke-linecap="butt"/>
<line x1="982.30" y1="773.74" x2="977.30" y2="773.74" stroke="#404040" stroke-width="1" stroke-linecap="butt"/>
<line x1="98.50" y1="756.27" x2="103.50" y2="756.27" stroke="#404040" stroke-width="1" stroke-linecap="butt"/>
<line x1="982.30" y1="756.27" x2="977.30" y2="756.27" stroke="#404040" stroke-width="1" stroke-linecap="butt"/>
<line x1="98.50" y1="743.88" x2="103.50" y2="743.88" stroke="#404040" stroke-width="1" stroke-linecap="butt"/>
<line x1="982.30" y1="743.88" x2="977.30" y2="743.88" stroke="#404040" stroke-width="1" stroke-linecap="butt"/>
<line x1="98.50" y1="734.26" x2="103.50" y2="734.26" stroke="#404040" stroke-width="1" stroke-linecap="butt"/>
<line x1="982.30" y1="734.26" x2="977.30" y2="734.26" stroke="#404040" stroke-width="1" stroke-linecap="butt"/>
<line x1="98.50" y1="726.41" x2="103.50" y2="726.41" stroke="#404040" stroke-width="1" stroke-linecap="butt"/>
<line x1="982.30" y1="726.41" x2="977.30" y2="726.41" stroke="#404040" stroke-width="1" stroke-linecap="butt"/>
<line x1="98.50" y1="719.77" x2="103.50" y2="719.77" stroke="#404040" stroke-width="1" stroke-linecap="butt"/>
<line x1="982.30" y1="719.77" x2="977.30" y2="719.77" stroke="#404040" stroke-width="1" stroke-linecap="butt"/>
<line x1="98.50" y1="714.01" x2="103.50" y2="714.01" stroke="#404040" stroke-width="1" stroke-linecap="butt"/>
<line x1="982.30" y1="714.01" x2="977.30" y2="714.01" stroke="#404040" stroke-width="1" stroke-linecap="butt"/>
<line x1="98.50" y1="708.94" x2="103.50" y2="708.94" stroke="#404040" stroke-width="1" stroke-linecap="butt"/>
<line x1="982.30" y1="708.94" x2="977.30" y2="708.94" stroke="#404040" stroke-width="1" stroke-linecap="butt"/>
<line x1="98.50" y1="704.40" x2="107.80" y2="704.40" stroke="#404040" stroke-width="1" stroke-linecap="butt"/>
<line x1="982.30" y1="704.40" x2="973.00" y2="704.40" stroke="#404040" stroke-width="1" stroke-linecap="butt"/>
<line x1="98.50" y1="674.54" x2="103.50" y2="674.54" stroke="#404040" stroke-width="1" stroke-linecap="butt"/>
<line x1="982.30" y1="674.54" x2="977.30" y2="674.54" stroke="#404040" stroke-width="1" stroke-linecap="butt"/>
<line x1="98.50" y1="657.07" x2="103.50" y2="657.07" stroke="#404040" stroke-width="1" stroke-linecap="butt"/>
<line x1="982.30" y1="657.07" x2="977.30" y2="657.07" stroke="#404040" stroke-width="1" stroke-linecap="butt"/>
<line x1="98.50" y1="644.68" x2="103.50" y2="644.68" stroke="#404040" stroke-width="1" stroke-linecap="butt"/>
<line x1="982.30" y1="644.68" x2="977.30" y2="644.68" stroke="#404040" stroke-width="1" stroke-linecap="butt"/>
<line x1="98.50" y1="635.06" x2="103.50" y2="635.06" stroke="#404040" stroke-width="1" stroke-linecap="butt"/>
<line x1="982.30" y1="635.06" x2="977.30" y2="635.06" stroke="#404040" stroke-width="1" stroke-linecap="butt"/>
<line x1="98.50" y1="627.21" x2="103.50" y2="627.21" stroke="#404040" stroke-width="1" stroke-linecap="butt"/>
<line x1="982.30" y1="627.21" x2="977.30" y2="627.21" stroke="#404040" stroke-width="1" stroke-linecap="butt"/>
<line x1="98.50" y1="620.57" x2="103.50" y2="620.57" stroke="#404040" stroke-width="1" stroke-linecap="butt"/>
<line x1="982.30" y1="620.57" x2="977.30" y2="620.57" stroke="#404040" stroke-width="1" stroke-linecap="butt"/>
<line x1="98.50" y1="614.81" x2="103.50" y2="614.81" stroke="#404040" stroke-width="1" stroke-linecap="butt"/>
<line x1="982.30" y1="614.81" x2="977.30" y2="614.81" stroke="#404040" stroke-width="1" stroke-linecap="butt"/>
<line x1="98.50" y1="609.74" x2="103.50" y2="609.74" stroke="#404040" stroke-width="1" stroke-linecap="butt"/>
<line x1="982.30" y1="609.74" x2="977.30" y2="609.74" stroke="#404040" stroke-width="1" stroke-linecap="butt"/>
<line x1="98.50" y1="605.20" x2="107.80" y2="605.20" stroke="#404040" stroke-width="1" stroke-linecap="butt"/>
<line x1="982.30" y1="605.20" x2="973.00" y2="605.20" stroke="#404040" stroke-width="1" stroke-linecap="butt"/>
<line x1="98.50" y1="575.34" x2="103.50" y2="575.34" stroke="#404040" stroke-width="1" stroke-linecap="butt"/>
<line x1="982.30" y1="575.34" x2="977.30" y2="575.34" stroke="#404040" stroke-width="1" stroke-linecap="butt"/>
<line x1="98.50" y1="557.87" x2="103.50" y2="557.87" stroke="#404040" stroke-width="1" stroke-linecap="butt"/>
<line x1="982.30" y1="557.87" x2="977.30" y2="557.87" stroke="#404040" stroke-width="1" stroke-linecap="butt"/>
<line x1="98.50" y1="545.48" x2="103.50" y2="545.48" stroke="#404040" stroke-width="1" stroke-linecap="butt"/>
<line x1="982.30" y1="545.48" x2="977.30" y2="545.48" stroke="#404040" stroke-width="1" stroke-linecap="butt"/>
<line x1="98.50" y1="535.86" x2="103.50" y2="535.86" stroke="#404040" stroke-width="1" stroke-linecap="butt"/>
<line x1="982.30" y1="535.86" x2="977.30" y2="535.86" stroke="#404040" stroke-width="1" stroke-linecap="butt"/>
<line x1="98.50" y1="528.01" x2="103.50" y2="528.01" stroke="#404040" stroke-width="1" stroke-linecap="butt"/>
<line x1="982.30" y1="528.01" x2="977.30" y2="528.01" stroke="#404040" stroke-width="1" stroke-linecap="butt"/>
<line x1="98.50" y1="521.37" x2="103.50" y2="521.37" stroke="#404040" stroke-width="1" stroke-linecap="butt"/>
<line x1="982.30" y1="521.37" x2="977.30" y2="521.37" stroke="#404040" stroke-width="1" stroke-linecap="butt"/>
<line x1="98.50" y1="515.61" x2="103.50" y2="515.61" stroke="#404040" stroke-width="1" stroke-linecap="butt"/>
<line x1="982.30" y1="515.61" x2="977.30" y2="515.61" stroke="#404040" stroke-width="1" stroke-linecap="butt"/>
<line x1="98.50" y1="510.54" x2="103.50" y2="510.54" stroke="#404040" stroke-width="1" stroke-linecap="butt"/>
<line x1="982.30" y1="510.54" x2="977.30" y2="510.54" stroke="#404040" stroke-width="1" stroke-linecap="butt"/>
<line x1="98.50" y1="506.00" x2="107.80" y2="506.00" stroke="#404040" stroke-width="1" stroke-linecap="butt"/>
<line x1="982.30" y1="506.00" x2="973.00" y2="506.00" stroke="#404040" stroke-width="1" stroke-linecap="butt"/>
<line x1="116.70" y1="902.80" x2="116.70" y2="894.00" stroke="#404040" stroke-width="1" stroke-linecap="butt"/>
<line x1="116.70" y1="506.00" x2="116.70" y2="514.80" stroke="#404040" stroke-width="1" stroke-linecap="butt"/>
<text transform="translate(116.70,939.90) scale(1.0,1.15)" font-family='"Liberation Serif", "DejaVu Serif", serif' font-size="29.5" font-style="normal" fill="#262626" text-anchor="middle">0</text>
<line x1="298.91" y1="902.80" x2="298.91" y2="894.00" stroke="#404040" stroke-width="1" stroke-linecap="butt"/>
<line x1="298.91" y1="506.00" x2="298.91" y2="514.80" stroke="#404040" stroke-width="1" stroke-linecap="butt"/>
<text transform="translate(298.91,939.90) scale(1.0,1.15)" font-family='"Liberation Serif", "DejaVu Serif", serif' font-size="29.5" font-style="normal" fill="#262626" text-anchor="middle">4</text>
<line x1="526.68" y1="902.80" x2="526.68" y2="894.00" stroke="#404040" stroke-width="1" stroke-linecap="butt"/>
<line x1="526.68" y1="506.00" x2="526.68" y2="514.80" stroke="#404040" stroke-width="1" stroke-linecap="butt"/>
<text transform="translate(526.68,939.90) scale(1.0,1.15)" font-family='"Liberation Serif", "DejaVu Serif", serif' font-size="29.5" font-style="normal" fill="#262626" text-anchor="middle">9</text>
<line x1="754.44" y1="902.80" x2="754.44" y2="894.00" stroke="#404040" stroke-width="1" stroke-linecap="butt"/>
<line x1="754.44" y1="506.00" x2="754.44" y2="514.80" stroke="#404040" stroke-width="1" stroke-linecap="butt"/>
<text transform="translate(754.44,939.90) scale(1.0,1.15)" font-family='"Liberation Serif", "DejaVu Serif", serif' font-size="29.5" font-style="normal" fill="#262626" text-anchor="middle">14</text>
<line x1="982.21" y1="902.80" x2="982.21" y2="894.00" stroke="#404040" stroke-width="1" stroke-linecap="butt"/>
<line x1="982.21" y1="506.00" x2="982.21" y2="514.80" stroke="#404040" stroke-width="1" stroke-linecap="butt"/>
<text transform="translate(982.21,939.90) scale(1.0,1.15)" font-family='"Liberation Serif", "DejaVu Serif", serif' font-size="29.5" font-style="normal" fill="#262626" text-anchor="middle">19</text>
<text transform="translate(46.30,819.40) scale(1.03,1.15)" font-family='"Liberation Serif", "DejaVu Serif", serif' font-size="29.5" font-style="normal" fill="#262626" text-anchor="start">10</text>
<text transform="translate(76.60,804.40) scale(1.0,1.04)" font-family='"Liberation Serif", "DejaVu Serif", serif' font-size="25" font-style="normal" fill="#262626" text-anchor="start">1</text>
<text transform="translate(46.30,720.20) scale(1.03,1.15)" font-family='"Liberation Serif", "DejaVu Serif", serif' font-size="29.5" font-style="normal" fill="#262626" text-anchor="start">10</text>
<text transform="translate(76.60,705.20) scale(1.0,1.04)" font-family='"Liberation Serif", "DejaVu Serif", serif' font-size="25" font-style="normal" fill="#262626" text-anchor="start">2</text>
<text transform="translate(46.30,621.00) scale(1.03,1.15)" font-family='"Liberation Serif", "DejaVu Serif", serif' font-size="29.5" font-style="normal" fill="#262626" text-anchor="start">10</text>
<text transform="translate(76.60,606.00) scale(1.0,1.04)" font-family='"Liberation Serif", "DejaVu Serif", serif' font-size="25" font-style="normal" fill="#262626" text-anchor="start">3</text>
<text transform="translate(46.30,521.80) scale(1.03,1.15)" font-family='"Liberation Serif", "DejaVu Serif", serif' font-size="29.5" font-style="normal" fill="#262626" text-anchor="start">10</text>
<text transform="translate(76.60,506.80) scale(1.0,1.04)" font-family='"Liberation Serif", "DejaVu Serif", serif' font-size="25" font-style="normal" fill="#262626" text-anchor="start">4</text>
<text transform="translate(87.60,914.20) scale(1.0,1.15)" font-family='"Liberation Serif", "DejaVu Serif", serif' font-size="29.5" font-style="normal" fill="#262626" text-anchor="end">1</text>
<text transform="translate(524.40,970.40) scale(1.3,1.17)" font-family='"Liberation Serif", "DejaVu Serif", serif' font-size="34" font-style="italic" fill="#262626" text-anchor="middle">n</text>
<g transform="translate(31.4,766) rotate(-90)" font-family='"Liberation Serif", "DejaVu Serif", serif' fill="#262626">
<text transform="translate(-2.62,0.0) scale(1.000,1)" font-size="35" font-style="normal">|</text>
<text transform="translate(4.80,0.0) scale(1.043,1)" font-size="35" font-style="italic">V</text>
<text transform="translate(24.63,5.2) scale(1.286,1)" font-size="21" font-style="italic">n</text>
<text transform="translate(39.98,0.0) scale(1.000,1)" font-size="35" font-style="normal">|</text>
<text transform="translate(48.62,0.0) scale(1.023,1)" font-size="35" font-style="normal">(</text>
<text transform="translate(60.32,0.0) scale(1.171,1)" font-size="35" font-style="italic">m</text>
<text transform="translate(88.27,0.0) scale(1.003,1)" font-size="35" font-style="italic">V</text>
<text transform="translate(114.13,0.0) scale(0.956,1)" font-size="35" font-style="normal">)</text>
</g>
<line x1="116.70" y1="577.30" x2="982.21" y2="849.30" stroke="#000" stroke-width="2.6" stroke-linecap="butt"/>
<line x1="116.70" y1="701.20" x2="982.21" y2="849.30" stroke="#000" stroke-width="2.6" stroke-linecap="butt"/>
<line x1="116.70" y1="748.70" x2="982.21" y2="849.30" stroke="#000" stroke-width="2.6" stroke-linecap="butt"/>
<path d="M111.00,748.20 L122.40,759.60 M111.00,759.60 L122.40,748.20" fill="none" stroke="#00ee00" stroke-width="2.4"/>
<path d="M156.55,754.40 L167.95,765.80 M156.55,765.80 L167.95,754.40" fill="none" stroke="#00ee00" stroke-width="2.4"/>
<path d="M202.11,760.90 L213.51,772.30 M202.11,772.30 L213.51,760.90" fill="none" stroke="#00ee00" stroke-width="2.4"/>
<path d="M247.66,765.30 L259.06,776.70 M247.66,776.70 L259.06,765.30" fill="none" stroke="#00ee00" stroke-width="2.4"/>
<path d="M293.21,774.60 L304.61,786.00 M293.21,786.00 L304.61,774.60" fill="none" stroke="#00ee00" stroke-width="2.4"/>
<path d="M338.76,777.80 L350.16,789.20 M338.76,789.20 L350.16,777.80" fill="none" stroke="#00ee00" stroke-width="2.4"/>
<path d="M384.32,780.50 L395.72,791.90 M384.32,791.90 L395.72,780.50" fill="none" stroke="#00ee00" stroke-width="2.4"/>
<path d="M429.87,785.70 L441.27,797.10 M429.87,797.10 L441.27,785.70" fill="none" stroke="#00ee00" stroke-width="2.4"/>
<path d="M475.42,788.30 L486.82,799.70 M475.42,799.70 L486.82,788.30" fill="none" stroke="#00ee00" stroke-width="2.4"/>
<path d="M520.98,794.00 L532.38,805.40 M520.98,805.40 L532.38,794.00" fill="none" stroke="#00ee00" stroke-width="2.4"/>
<path d="M566.53,798.10 L577.93,809.50 M566.53,809.50 L577.93,798.10" fill="none" stroke="#00ee00" stroke-width="2.4"/>
<path d="M612.08,803.70 L623.48,815.10 M612.08,815.10 L623.48,803.70" fill="none" stroke="#00ee00" stroke-width="2.4"/>
<path d="M657.64,808.90 L669.04,820.30 M657.64,820.30 L669.04,808.90" fill="none" stroke="#00ee00" stroke-width="2.4"/>
<path d="M703.19,814.10 L714.59,825.50 M703.19,825.50 L714.59,814.10" fill="none" stroke="#00ee00" stroke-width="2.4"/>
<path d="M748.74,820.50 L760.14,831.90 M748.74,831.90 L760.14,820.50" fill="none" stroke="#00ee00" stroke-width="2.4"/>
<path d="M794.29,828.60 L805.70,840.00 M794.29,840.00 L805.70,828.60" fill="none" stroke="#00ee00" stroke-width="2.4"/>
<path d="M839.85,832.70 L851.25,844.10 M839.85,844.10 L851.25,832.70" fill="none" stroke="#00ee00" stroke-width="2.4"/>
<path d="M885.40,836.80 L896.80,848.20 M885.40,848.20 L896.80,836.80" fill="none" stroke="#00ee00" stroke-width="2.4"/>
<path d="M930.95,841.50 L942.35,852.90 M930.95,852.90 L942.35,841.50" fill="none" stroke="#00ee00" stroke-width="2.4"/>
<path d="M976.51,845.10 L987.91,856.50 M976.51,856.50 L987.91,845.10" fill="none" stroke="#00ee00" stroke-width="2.4"/>
<path d="M116.70,570.20 L122.10,577.30 L116.70,584.40 L111.30,577.30 Z" fill="none" stroke="#ff0000" stroke-width="2.4" stroke-linejoin="miter"/>
<path d="M162.25,584.40 L167.65,591.50 L162.25,598.60 L156.85,591.50 Z" fill="none" stroke="#ff0000" stroke-width="2.4" stroke-linejoin="miter"/>
<path d="M207.81,600.70 L213.21,607.80 L207.81,614.90 L202.41,607.80 Z" fill="none" stroke="#ff0000" stroke-width="2.4" stroke-linejoin="miter"/>
<path d="M253.36,615.70 L258.76,622.80 L253.36,629.90 L247.96,622.80 Z" fill="none" stroke="#ff0000" stroke-width="2.4" stroke-linejoin="miter"/>
<path d="M298.91,632.80 L304.31,639.90 L298.91,647.00 L293.51,639.90 Z" fill="none" stroke="#ff0000" stroke-width="2.4" stroke-linejoin="miter"/>
<path d="M344.46,644.10 L349.86,651.20 L344.46,658.30 L339.06,651.20 Z" fill="none" stroke="#ff0000" stroke-width="2.4" stroke-linejoin="miter"/>
<path d="M390.02,656.30 L395.42,663.40 L390.02,670.50 L384.62,663.40 Z" fill="none" stroke="#ff0000" stroke-width="2.4" stroke-linejoin="miter"/>
<path d="M435.57,669.80 L440.97,676.90 L435.57,684.00 L430.17,676.90 Z" fill="none" stroke="#ff0000" stroke-width="2.4" stroke-linejoin="miter"/>
<path d="M481.12,682.70 L486.52,689.80 L481.12,696.90 L475.72,689.80 Z" fill="none" stroke="#ff0000" stroke-width="2.4" stroke-linejoin="miter"/>
<path d="M526.68,697.20 L532.08,704.30 L526.68,711.40 L521.28,704.30 Z" fill="none" stroke="#ff0000" stroke-width="2.4" stroke-linejoin="miter"/>
<path d="M572.23,714.20 L577.63,721.30 L572.23,728.40 L566.83,721.30 Z" fill="none" stroke="#ff0000" stroke-width="2.4" stroke-linejoin="miter"/>
<path d="M617.78,726.80 L623.18,733.90 L617.78,741.00 L612.38,733.90 Z" fill="none" stroke="#ff0000" stroke-width="2.4" stroke-linejoin="miter"/>
<path d="M663.34,741.30 L668.74,748.40 L663.34,755.50 L657.94,748.40 Z" fill="none" stroke="#ff0000" stroke-width="2.4" stroke-linejoin="miter"/>
<path d="M708.89,755.50 L714.29,762.60 L708.89,769.70 L703.49,762.60 Z" fill="none" stroke="#ff0000" stroke-width="2.4" stroke-linejoin="miter"/>
<path d="M754.44,774.70 L759.84,781.80 L754.44,788.90 L749.04,781.80 Z" fill="none" stroke="#ff0000" stroke-width="2.4" stroke-linejoin="miter"/>
<path d="M800.00,789.90 L805.39,797.00 L800.00,804.10 L794.60,797.00 Z" fill="none" stroke="#ff0000" stroke-width="2.4" stroke-linejoin="miter"/>
<path d="M845.55,803.90 L850.95,811.00 L845.55,818.10 L840.15,811.00 Z" fill="none" stroke="#ff0000" stroke-width="2.4" stroke-linejoin="miter"/>
<path d="M891.10,816.20 L896.50,823.30 L891.10,830.40 L885.70,823.30 Z" fill="none" stroke="#ff0000" stroke-width="2.4" stroke-linejoin="miter"/>
<path d="M936.65,827.10 L942.05,834.20 L936.65,841.30 L931.25,834.20 Z" fill="none" stroke="#ff0000" stroke-width="2.4" stroke-linejoin="miter"/>
<path d="M982.21,842.20 L987.61,849.30 L982.21,856.40 L976.81,849.30 Z" fill="none" stroke="#ff0000" stroke-width="2.4" stroke-linejoin="miter"/>
<path d="M109.50,697.00 L120.40,690.70 L120.40,703.30 Z" fill="none" stroke="#0000ff" stroke-width="2.4" stroke-linejoin="miter"/>
<path d="M155.05,708.10 L165.95,701.80 L165.95,714.40 Z" fill="none" stroke="#0000ff" stroke-width="2.4" stroke-linejoin="miter"/>
<path d="M200.61,716.70 L211.51,710.40 L211.51,723.00 Z" fill="none" stroke="#0000ff" stroke-width="2.4" stroke-linejoin="miter"/>
<path d="M246.16,724.20 L257.06,717.90 L257.06,730.50 Z" fill="none" stroke="#0000ff" stroke-width="2.4" stroke-linejoin="miter"/>
<path d="M291.71,731.90 L302.61,725.60 L302.61,738.20 Z" fill="none" stroke="#0000ff" stroke-width="2.4" stroke-linejoin="miter"/>
<path d="M337.26,740.20 L348.16,733.90 L348.16,746.50 Z" fill="none" stroke="#0000ff" stroke-width="2.4" stroke-linejoin="miter"/>
<path d="M382.82,746.90 L393.72,740.60 L393.72,753.20 Z" fill="none" stroke="#0000ff" stroke-width="2.4" stroke-linejoin="miter"/>
<path d="M428.37,753.90 L439.27,747.60 L439.27,760.20 Z" fill="none" stroke="#0000ff" stroke-width="2.4" stroke-linejoin="miter"/>
<path d="M473.92,763.00 L484.82,756.70 L484.82,769.30 Z" fill="none" stroke="#0000ff" stroke-width="2.4" stroke-linejoin="miter"/>
<path d="M519.48,776.40 L530.38,770.10 L530.38,782.70 Z" fill="none" stroke="#0000ff" stroke-width="2.4" stroke-linejoin="miter"/>
<path d="M565.03,782.20 L575.93,775.90 L575.93,788.50 Z" fill="none" stroke="#0000ff" stroke-width="2.4" stroke-linejoin="miter"/>
<path d="M610.58,790.80 L621.48,784.50 L621.48,797.10 Z" fill="none" stroke="#0000ff" stroke-width="2.4" stroke-linejoin="miter"/>
<path d="M656.14,800.40 L667.04,794.10 L667.04,806.70 Z" fill="none" stroke="#0000ff" stroke-width="2.4" stroke-linejoin="miter"/>
<path d="M701.69,807.40 L712.59,801.10 L712.59,813.70 Z" fill="none" stroke="#0000ff" stroke-width="2.4" stroke-linejoin="miter"/>
<path d="M747.24,814.10 L758.14,807.80 L758.14,820.40 Z" fill="none" stroke="#0000ff" stroke-width="2.4" stroke-linejoin="miter"/>
<path d="M792.79,821.40 L803.70,815.10 L803.70,827.70 Z" fill="none" stroke="#0000ff" stroke-width="2.4" stroke-linejoin="miter"/>
<path d="M838.35,827.60 L849.25,821.30 L849.25,833.90 Z" fill="none" stroke="#0000ff" stroke-width="2.4" stroke-linejoin="miter"/>
<path d="M883.90,834.60 L894.80,828.30 L894.80,840.90 Z" fill="none" stroke="#0000ff" stroke-width="2.4" stroke-linejoin="miter"/>
<path d="M929.45,840.80 L940.35,834.50 L940.35,847.10 Z" fill="none" stroke="#0000ff" stroke-width="2.4" stroke-linejoin="miter"/>
<path d="M975.01,849.30 L985.91,843.00 L985.91,855.60 Z" fill="none" stroke="#0000ff" stroke-width="2.4" stroke-linejoin="miter"/>
<line x1="398.30" y1="536.60" x2="429.50" y2="536.60" stroke="#000" stroke-width="2.6" stroke-linecap="butt"/>
<text transform="translate(446.30,545.80) scale(1.0,1.04)" font-family='"Liberation Serif", "DejaVu Serif", serif' font-size="27.3" font-style="normal" fill="#111" text-anchor="start">Theoretical</text>
<path d="M414.40,563.30 L419.80,570.40 L414.40,577.50 L409.00,570.40 Z" fill="none" stroke="#ff0000" stroke-width="2.4" stroke-linejoin="miter"/>
<path d="M407.60,603.20 L418.50,596.90 L418.50,609.50 Z" fill="none" stroke="#0000ff" stroke-width="2.4" stroke-linejoin="miter"/>
<path d="M408.70,630.70 L420.10,642.10 M408.70,642.10 L420.10,630.70" fill="none" stroke="#00ee00" stroke-width="2.4"/>
<text x="440.9" y="577.8" font-family='"Liberation Serif", "DejaVu Serif", serif' font-size="22.4" fill="#111" stroke="#111" stroke-width="0.3" lengthAdjust="spacingAndGlyphs" textLength="51.1">(<tspan font-style="italic">N</tspan>,<tspan font-style="italic" dx="2.5">l</tspan>)</text>
<text x="498.8" y="577.8" font-family='"Liberation Serif", "DejaVu Serif", serif' font-size="22.4" fill="#111" stroke="#111" stroke-width="0.3" lengthAdjust="spacingAndGlyphs" textLength="16.7">=</text>
<text x="521.9" y="577.8" font-family='"Liberation Serif", "DejaVu Serif", serif' font-size="22.4" fill="#111" stroke="#111" stroke-width="0.3" lengthAdjust="spacingAndGlyphs" textLength="59.6">(20,6)</text>
<text x="439.6" y="609.2" font-family='"Liberation Serif", "DejaVu Serif", serif' font-size="22.4" fill="#111" stroke="#111" stroke-width="0.3" lengthAdjust="spacingAndGlyphs" textLength="51.0">(<tspan font-style="italic">N</tspan>,<tspan font-style="italic" dx="2.5">l</tspan>)</text>
<text x="497.4" y="609.2" font-family='"Liberation Serif", "DejaVu Serif", serif' font-size="22.4" fill="#111" stroke="#111" stroke-width="0.3" lengthAdjust="spacingAndGlyphs" textLength="17.2">=</text>
<text x="521.1" y="609.2" font-family='"Liberation Serif", "DejaVu Serif", serif' font-size="22.4" fill="#111" stroke="#111" stroke-width="0.3" lengthAdjust="spacingAndGlyphs" textLength="70.6">(20,11)</text>
<text x="440.4" y="643.0" font-family='"Liberation Serif", "DejaVu Serif", serif' font-size="22.4" fill="#111" stroke="#111" stroke-width="0.3" lengthAdjust="spacingAndGlyphs" textLength="50.7">(<tspan font-style="italic">N</tspan>,<tspan font-style="italic" dx="2.5">l</tspan>)</text>
<text x="497.9" y="643.0" font-family='"Liberation Serif", "DejaVu Serif", serif' font-size="22.4" fill="#111" stroke="#111" stroke-width="0.3" lengthAdjust="spacingAndGlyphs" textLength="16.7">=</text>
<text x="522.4" y="643.0" font-family='"Liberation Serif", "DejaVu Serif", serif' font-size="22.4" fill="#111" stroke="#111" stroke-width="0.3" lengthAdjust="spacingAndGlyphs" textLength="70.2">(20,16)</text>
<rect x="708.2" y="540.2" width="222.20" height="108.00" fill="#fff" stroke="#505050" stroke-width="1"/>
<line x1="760.50" y1="648.20" x2="760.50" y2="645.80" stroke="#505050" stroke-width="1" stroke-linecap="butt"/>
<line x1="760.50" y1="540.20" x2="760.50" y2="542.60" stroke="#505050" stroke-width="1" stroke-linecap="butt"/>
<text transform="translate(760.50,685.20) scale(1.0,1.15)" font-family='"Liberation Serif", "DejaVu Serif", serif' font-size="29.5" font-style="normal" fill="#262626" text-anchor="middle">6</text>
<line x1="825.80" y1="648.20" x2="825.80" y2="645.80" stroke="#505050" stroke-width="1" stroke-linecap="butt"/>
<line x1="825.80" y1="540.20" x2="825.80" y2="542.60" stroke="#505050" stroke-width="1" stroke-linecap="butt"/>
<text transform="translate(825.80,685.20) scale(1.0,1.15)" font-family='"Liberation Serif", "DejaVu Serif", serif' font-size="29.5" font-style="normal" fill="#262626" text-anchor="middle">11</text>
<line x1="891.10" y1="648.20" x2="891.10" y2="645.80" stroke="#505050" stroke-width="1" stroke-linecap="butt"/>
<line x1="891.10" y1="540.20" x2="891.10" y2="542.60" stroke="#505050" stroke-width="1" stroke-linecap="butt"/>
<text transform="translate(891.10,685.20) scale(1.0,1.15)" font-family='"Liberation Serif", "DejaVu Serif", serif' font-size="29.5" font-style="normal" fill="#262626" text-anchor="middle">16</text>
<line x1="708.20" y1="648.20" x2="710.60" y2="648.20" stroke="#505050" stroke-width="1" stroke-linecap="butt"/>
<line x1="930.40" y1="648.20" x2="928.00" y2="648.20" stroke="#505050" stroke-width="1" stroke-linecap="butt"/>
<text transform="translate(700.40,660.10) scale(1.0,1.15)" font-family='"Liberation Serif", "DejaVu Serif", serif' font-size="29.5" font-style="normal" fill="#262626" text-anchor="end">0</text>
<line x1="708.20" y1="594.20" x2="710.60" y2="594.20" stroke="#505050" stroke-width="1" stroke-linecap="butt"/>
<line x1="930.40" y1="594.20" x2="928.00" y2="594.20" stroke="#505050" stroke-width="1" stroke-linecap="butt"/>
<text transform="translate(700.40,606.10) scale(1.0,1.15)" font-family='"Liberation Serif", "DejaVu Serif", serif' font-size="29.5" font-style="normal" fill="#262626" text-anchor="end">5</text>
<line x1="708.20" y1="540.20" x2="710.60" y2="540.20" stroke="#505050" stroke-width="1" stroke-linecap="butt"/>
<line x1="930.40" y1="540.20" x2="928.00" y2="540.20" stroke="#505050" stroke-width="1" stroke-linecap="butt"/>
<text transform="translate(700.40,552.10) scale(1.0,1.15)" font-family='"Liberation Serif", "DejaVu Serif", serif' font-size="29.5" font-style="normal" fill="#262626" text-anchor="end">10</text>
<line x1="760.50" y1="615.70" x2="891.10" y2="560.50" stroke="#000" stroke-width="2.6" stroke-linecap="butt"/>
<path d="M760.50,608.60 L765.90,615.70 L760.50,622.80 L755.10,615.70 Z" fill="none" stroke="#ff0000" stroke-width="2.4" stroke-linejoin="miter"/>
<path d="M819.00,590.80 L829.90,584.50 L829.90,597.10 Z" fill="none" stroke="#0000ff" stroke-width="2.4" stroke-linejoin="miter"/>
<path d="M885.40,552.00 L896.80,563.40 M885.40,563.40 L896.80,552.00" fill="none" stroke="#00ee00" stroke-width="2.4"/>
<text transform="translate(820.60,722.00) scale(1.1,1.0)" font-family='"Liberation Serif", "DejaVu Serif", serif' font-size="34" font-style="italic" fill="#262626" text-anchor="middle">l</text>
<text transform="translate(656.8,595) rotate(-90)" font-family='"Liberation Serif", "DejaVu Serif", serif' font-size="36.8" font-style="italic" fill="#262626" text-anchor="middle">ξ</text>
</svg>
</body></html>
